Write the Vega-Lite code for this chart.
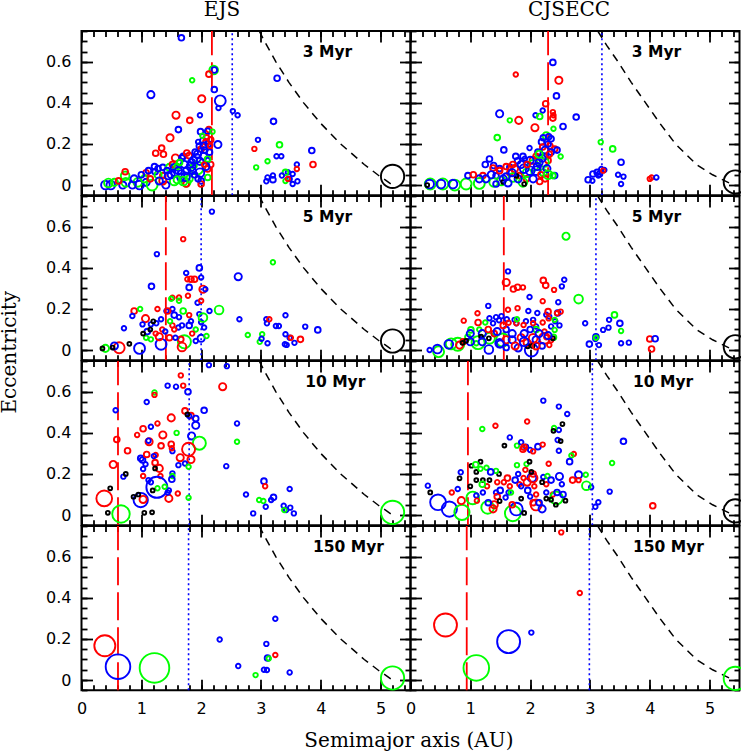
{
"$schema":"https://vega.github.io/schema/vega-lite/v6.json",
"padding":{"left":-2.5,"top":-1,"right":0,"bottom":0},
"autosize":{"type":"pad"},
"background":"white",
"config":{"view":{"stroke":"black","strokeWidth":2},
"axis":{"domain":false,"grid":false,"minExtent":0,"tickColor":"black","tickWidth":1.8,"labelColor":"black","labelFont":"DejaVu Sans","labelFontSize":16,"labelFlush":false,"labelOverlap":false,"labelPadding":10,"titleColor":"black","titleFont":"DejaVu Serif","titleFontSize":20,"titleFontWeight":"normal"}},
"datasets":{
"curve":[
{"s":"E","a":2.971,"e":0.75},{"s":"E","a":3.059,"e":0.7},{"s":"E","a":3.25,"e":0.6},{"s":"E","a":3.467,"e":0.5},{"s":"E","a":3.714,"e":0.4},{"s":"E","a":4.0,"e":0.3},{"s":"E","a":4.333,"e":0.2},{"s":"E","a":4.727,"e":0.1},{"s":"E","a":4.952,"e":0.05},{"s":"E","a":5.2,"e":0},
{"s":"C","a":3.13,"e":0.75},{"s":"C","a":3.28,"e":0.68},{"s":"C","a":3.47,"e":0.6},{"s":"C","a":3.69,"e":0.5},{"s":"C","a":3.93,"e":0.4},{"s":"C","a":4.17,"e":0.3},{"s":"C","a":4.43,"e":0.2},{"s":"C","a":4.78,"e":0.1},{"s":"C","a":5.05,"e":0.05},{"s":"C","a":5.4,"e":0}],
"vlines":[
{"p":"E3","kind":"inner","a":2.18},{"p":"E3","kind":"outer","a":2.52},
{"p":"E5","kind":"inner","a":1.41},{"p":"E5","kind":"outer","a":2.0},
{"p":"E10","kind":"inner","a":0.61},{"p":"E10","kind":"outer","a":1.8},
{"p":"E150","kind":"inner","a":0.61},{"p":"E150","kind":"outer","a":1.79},
{"p":"C3","kind":"inner","a":2.3},{"p":"C3","kind":"outer","a":3.2},
{"p":"C5","kind":"inner","a":1.56},{"p":"C5","kind":"outer","a":3.1},
{"p":"C10","kind":"inner","a":0.96},{"p":"C10","kind":"outer","a":3.04},
{"p":"C150","kind":"inner","a":0.94},{"p":"C150","kind":"outer","a":2.99}],
"labels":[
{"p":"E3","label":"3 Myr"},{"p":"C3","label":"3 Myr"},{"p":"E5","label":"5 Myr"},{"p":"C5","label":"5 Myr"},
{"p":"E10","label":"10 Myr"},{"p":"C10","label":"10 Myr"},{"p":"E150","label":"150 Myr"},{"p":"C150","label":"150 Myr"}],
"jup":[
{"p":"E3","a":5.2,"e":0.042,"g":"D"},{"p":"E5","a":5.2,"e":0.044,"g":"D"},{"p":"E10","a":5.2,"e":0.013,"g":"B"},{"p":"E150","a":5.2,"e":0.01,"g":"B"},
{"p":"C3","a":5.43,"e":0.015,"g":"D"},{"p":"C5","a":5.43,"e":0.016,"g":"D"},{"p":"C10","a":5.43,"e":0.02,"g":"D"},{"p":"C150","a":5.43,"e":0.008,"g":"B"}],
"pts":[
{"p":"E3","a":1.67,"e":0.717,"g":"C","m":0.01},{"p":"E3","a":1.16,"e":0.44,"g":"C","m":0.02},{"p":"E3","a":1.85,"e":0.51,"g":"B","m":0.005},{"p":"E3","a":2.21,"e":0.56,"g":"B","m":0.035},{"p":"E3","a":2.22,"e":0.56,"g":"C","m":0.01},{"p":"E3","a":2.13,"e":0.54,"g":"A","m":0.01},{"p":"E3","a":2.22,"e":0.465,"g":"C","m":0.01},{"p":"E3","a":2.32,"e":0.41,"g":"C","m":0.07},{"p":"E3","a":2.29,"e":0.375,"g":"C","m":0.005},{"p":"E3","a":2.01,"e":0.42,"g":"A","m":0.02},{"p":"E3","a":1.58,"e":0.34,"g":"A","m":0.02},{"p":"E3","a":1.81,"e":0.315,"g":"A","m":0.01},{"p":"E3","a":1.98,"e":0.34,"g":"C","m":0.005},{"p":"E3","a":1.62,"e":0.27,"g":"C","m":0.01},{"p":"E3","a":1.48,"e":0.23,"g":"A","m":0.02},{"p":"E3","a":2.13,"e":0.27,"g":"A","m":0.01},{"p":"E3","a":2.11,"e":0.262,"g":"C","m":0.01},{"p":"E3","a":1.34,"e":0.18,"g":"A","m":0.01},{"p":"E3","a":1.24,"e":0.155,"g":"A","m":0.01},{"p":"E3","a":1.37,"e":0.15,"g":"A","m":0.01},{"p":"E3","a":2.53,"e":0.36,"g":"C","m":0.005},{"p":"E3","a":2.61,"e":0.34,"g":"C","m":0.005},{"p":"E3","a":3.27,"e":0.52,"g":"C","m":0.01},{"p":"E3","a":3.21,"e":0.31,"g":"C","m":0.01},{"p":"E3","a":2.95,"e":0.22,"g":"C","m":0.005},{"p":"E3","a":2.89,"e":0.176,"g":"A","m":0.005},{"p":"E3","a":3.31,"e":0.196,"g":"B","m":0.01},{"p":"E3","a":3.11,"e":0.116,"g":"B","m":0.005},{"p":"E3","a":2.92,"e":0.086,"g":"B","m":0.005},{"p":"E3","a":3.26,"e":0.14,"g":"C","m":0.005},{"p":"E3","a":3.34,"e":0.14,"g":"C","m":0.005},{"p":"E3","a":3.85,"e":0.168,"g":"C","m":0.01},{"p":"E3","a":3.87,"e":0.1,"g":"A","m":0.01},{"p":"E3","a":3.6,"e":0.1,"g":"C","m":0.005},{"p":"E3","a":3.6,"e":0.078,"g":"A","m":0.005},{"p":"E3","a":3.45,"e":0.062,"g":"C","m":0.005},{"p":"E3","a":3.53,"e":0.054,"g":"C","m":0.005},{"p":"E3","a":3.41,"e":0.062,"g":"B","m":0.01},{"p":"E3","a":3.2,"e":0.046,"g":"C","m":0.005},{"p":"E3","a":3.11,"e":0.037,"g":"C","m":0.005},{"p":"E3","a":3.35,"e":0.046,"g":"C","m":0.005},{"p":"E3","a":3.48,"e":0.029,"g":"C","m":0.005},{"p":"E3","a":3.41,"e":0.02,"g":"B","m":0.005},{"p":"E3","a":3.45,"e":0.03,"g":"A","m":0.005},{"p":"E3","a":3.2,"e":0.026,"g":"C","m":0.01},{"p":"E3","a":3.09,"e":0.018,"g":"C","m":0.005},{"p":"E3","a":3.53,"e":0.005,"g":"C","m":0.005},{"p":"E3","a":3.61,"e":0.018,"g":"C","m":0.005},{"p":"E3","a":2.28,"e":0.197,"g":"C","m":0.02},{"p":"E3","a":2.19,"e":0.26,"g":"B","m":0.005},
{"p":"E3","a":0.4,"e":0.0,"g":"C","m":0.035},{"p":"E3","a":0.49,"e":0.0,"g":"C","m":0.035},{"p":"E3","a":0.45,"e":0.01,"g":"B","m":0.035},{"p":"E3","a":0.55,"e":0.013,"g":"B","m":0.02},{"p":"E3","a":0.69,"e":0.0,"g":"C","m":0.02},{"p":"E3","a":0.74,"e":0.013,"g":"B","m":0.035},{"p":"E3","a":0.85,"e":0.0,"g":"C","m":0.02},{"p":"E3","a":0.94,"e":0.013,"g":"B","m":0.035},{"p":"E3","a":0.97,"e":0.0,"g":"C","m":0.035},{"p":"E3","a":1.08,"e":0.013,"g":"C","m":0.02},{"p":"E3","a":1.18,"e":0.0,"g":"B","m":0.07},{"p":"E3","a":0.73,"e":0.045,"g":"B","m":0.035},{"p":"E3","a":0.73,"e":0.065,"g":"A","m":0.01},{"p":"E3","a":0.62,"e":0.02,"g":"A","m":0.01},{"p":"E3","a":1.22,"e":0.09,"g":"C","m":0.01},{"p":"E3","a":1.36,"e":0.086,"g":"C","m":0.01},{"p":"E3","a":1.23,"e":0.065,"g":"C","m":0.01},{"p":"E3","a":1.08,"e":0.06,"g":"A","m":0.01},{"p":"E3","a":1.36,"e":0.046,"g":"A","m":0.01},{"p":"E3","a":1.28,"e":0.05,"g":"B","m":0.02},{"p":"E3","a":1.47,"e":0.086,"g":"B","m":0.02},{"p":"E3","a":1.52,"e":0.1,"g":"A","m":0.01},{"p":"E3","a":1.55,"e":0.085,"g":"C","m":0.02},{"p":"E3","a":1.57,"e":0.132,"g":"A","m":0.02},{"p":"E3","a":1.68,"e":0.132,"g":"C","m":0.01},{"p":"E3","a":1.7,"e":0.14,"g":"C","m":0.01},{"p":"E3","a":1.76,"e":0.156,"g":"A","m":0.01},{"p":"E3","a":1.8,"e":0.143,"g":"A","m":0.01},{"p":"E3","a":1.84,"e":0.11,"g":"C","m":0.02},{"p":"E3","a":1.88,"e":0.095,"g":"B","m":0.01},{"p":"E3","a":1.97,"e":0.19,"g":"C","m":0.01},{"p":"E3","a":2.03,"e":0.217,"g":"C","m":0.01},{"p":"E3","a":2.08,"e":0.21,"g":"A","m":0.01},{"p":"E3","a":2.0,"e":0.175,"g":"A","m":0.01},{"p":"E3","a":2.06,"e":0.17,"g":"C","m":0.01},{"p":"E3","a":1.94,"e":0.15,"g":"C","m":0.02},{"p":"E3","a":2.04,"e":0.14,"g":"C","m":0.02},{"p":"E3","a":1.98,"e":0.115,"g":"C","m":0.02},{"p":"E3","a":2.1,"e":0.12,"g":"C","m":0.01},{"p":"E3","a":2.11,"e":0.078,"g":"A","m":0.01},{"p":"E3","a":2.16,"e":0.1,"g":"A","m":0.01},{"p":"E3","a":2.11,"e":0.127,"g":"B","m":0.01},{"p":"E3","a":2.11,"e":0.037,"g":"B","m":0.01},{"p":"E3","a":1.93,"e":0.083,"g":"B","m":0.12},{"p":"E3","a":2.0,"e":0.02,"g":"C","m":0.01},{"p":"E3","a":2.0,"e":0.005,"g":"A","m":0.01},{"p":"E3","a":1.55,"e":0.02,"g":"B","m":0.035},{"p":"E3","a":1.75,"e":0.013,"g":"B","m":0.035},{"p":"E3","a":1.75,"e":0.005,"g":"A","m":0.01},{"p":"E3","a":1.41,"e":0.0,"g":"C","m":0.02},{"p":"E3","a":1.36,"e":0.02,"g":"A","m":0.02},{"p":"E3","a":1.66,"e":0.037,"g":"C","m":0.02},{"p":"E3","a":1.8,"e":0.03,"g":"B","m":0.02},{"p":"E3","a":1.45,"e":0.045,"g":"C","m":0.02},{"p":"E3","a":1.56,"e":0.06,"g":"C","m":0.02},{"p":"E3","a":1.67,"e":0.055,"g":"C","m":0.02},{"p":"E3","a":1.76,"e":0.07,"g":"C","m":0.02},{"p":"E3","a":1.85,"e":0.07,"g":"C","m":0.02},{"p":"E3","a":1.89,"e":0.05,"g":"C","m":0.01},{"p":"E3","a":1.95,"e":0.03,"g":"C","m":0.01},{"p":"E3","a":1.6,"e":0.09,"g":"B","m":0.01},{"p":"E3","a":1.3,"e":0.02,"g":"C","m":0.02},{"p":"E3","a":1.05,"e":0.03,"g":"B","m":0.02},{"p":"E3","a":1.15,"e":0.03,"g":"A","m":0.01},{"p":"E3","a":0.88,"e":0.03,"g":"C","m":0.02},{"p":"E3","a":2.09,"e":0.23,"g":"A","m":0.01},{"p":"E3","a":2.12,"e":0.2,"g":"C","m":0.01},{"p":"E3","a":1.99,"e":0.26,"g":"C","m":0.01},
{"p":"E3","a":1.9,"e":0.16,"g":"C","m":0.01},{"p":"E3","a":1.95,"e":0.21,"g":"C","m":0.005},{"p":"E3","a":2.05,"e":0.19,"g":"C","m":0.02},{"p":"E3","a":2.14,"e":0.16,"g":"C","m":0.01},{"p":"E3","a":2.16,"e":0.22,"g":"A","m":0.01},{"p":"E3","a":2.02,"e":0.24,"g":"B","m":0.005},{"p":"E3","a":1.87,"e":0.12,"g":"C","m":0.02},{"p":"E3","a":1.72,"e":0.1,"g":"C","m":0.02},{"p":"E3","a":1.62,"e":0.07,"g":"C","m":0.02},{"p":"E3","a":1.5,"e":0.05,"g":"C","m":0.02},{"p":"E3","a":1.43,"e":0.07,"g":"C","m":0.01},{"p":"E3","a":1.74,"e":0.04,"g":"C","m":0.035},{"p":"E3","a":1.92,"e":0.13,"g":"C","m":0.035},{"p":"E3","a":2.08,"e":0.09,"g":"C","m":0.02},{"p":"E3","a":1.98,"e":0.06,"g":"C","m":0.035},{"p":"E3","a":1.83,"e":0.09,"g":"C","m":0.035},{"p":"E3","a":1.64,"e":0.11,"g":"B","m":0.01},{"p":"E3","a":1.28,"e":0.08,"g":"C","m":0.01},{"p":"E3","a":1.12,"e":0.07,"g":"C","m":0.01},{"p":"E3","a":1.0,"e":0.05,"g":"C","m":0.01},{"p":"E3","a":2.15,"e":0.19,"g":"A","m":0.005},{"p":"E3","a":2.05,"e":0.1,"g":"A","m":0.005},{"p":"E3","a":1.7,"e":0.02,"g":"B","m":0.035},{"p":"E3","a":1.6,"e":0.025,"g":"B","m":0.02},
{"p":"C3","a":2.38,"e":0.597,"g":"C","m":0.01},{"p":"C3","a":1.76,"e":0.538,"g":"A","m":0.005},{"p":"C3","a":2.48,"e":0.51,"g":"A","m":0.02},{"p":"C3","a":2.44,"e":0.434,"g":"C","m":0.01},{"p":"C3","a":1.49,"e":0.347,"g":"C","m":0.02},{"p":"C3","a":1.66,"e":0.315,"g":"B","m":0.005},{"p":"C3","a":1.81,"e":0.315,"g":"A","m":0.02},{"p":"C3","a":2.09,"e":0.34,"g":"C","m":0.005},{"p":"C3","a":2.21,"e":0.363,"g":"C","m":0.005},{"p":"C3","a":2.26,"e":0.396,"g":"A","m":0.01},{"p":"C3","a":2.38,"e":0.355,"g":"A","m":0.005},{"p":"C3","a":2.39,"e":0.34,"g":"A","m":0.005},{"p":"C3","a":2.38,"e":0.326,"g":"A","m":0.01},{"p":"C3","a":2.16,"e":0.334,"g":"B","m":0.01},{"p":"C3","a":2.08,"e":0.279,"g":"A","m":0.02},{"p":"C3","a":2.77,"e":0.331,"g":"C","m":0.01},{"p":"C3","a":2.55,"e":0.285,"g":"C","m":0.01},{"p":"C3","a":2.39,"e":0.274,"g":"B","m":0.005},{"p":"C3","a":1.45,"e":0.231,"g":"B","m":0.01},{"p":"C3","a":1.56,"e":0.171,"g":"C","m":0.01},{"p":"C3","a":2.27,"e":0.24,"g":"B","m":0.02},{"p":"C3","a":2.31,"e":0.235,"g":"C","m":0.01},{"p":"C3","a":2.35,"e":0.225,"g":"C","m":0.01},{"p":"C3","a":2.19,"e":0.21,"g":"C","m":0.01},{"p":"C3","a":2.21,"e":0.185,"g":"A","m":0.01},{"p":"C3","a":2.33,"e":0.19,"g":"A","m":0.01},{"p":"C3","a":2.41,"e":0.175,"g":"A","m":0.01},{"p":"C3","a":2.35,"e":0.16,"g":"C","m":0.01},{"p":"C3","a":2.45,"e":0.17,"g":"C","m":0.01},{"p":"C3","a":2.51,"e":0.139,"g":"B","m":0.005},{"p":"C3","a":1.99,"e":0.18,"g":"C","m":0.005},{"p":"C3","a":2.13,"e":0.16,"g":"C","m":0.01},{"p":"C3","a":2.1,"e":0.14,"g":"A","m":0.01},{"p":"C3","a":2.25,"e":0.14,"g":"C","m":0.01},{"p":"C3","a":2.3,"e":0.12,"g":"A","m":0.01},{"p":"C3","a":1.32,"e":0.127,"g":"C","m":0.01},{"p":"C3","a":1.25,"e":0.1,"g":"C","m":0.01},{"p":"C3","a":1.39,"e":0.095,"g":"C","m":0.01},{"p":"C3","a":1.49,"e":0.08,"g":"C","m":0.01},{"p":"C3","a":1.43,"e":0.045,"g":"C","m":0.01},{"p":"C3","a":1.66,"e":0.086,"g":"C","m":0.01},{"p":"C3","a":1.76,"e":0.14,"g":"C","m":0.01},{"p":"C3","a":1.88,"e":0.14,"g":"C","m":0.01},{"p":"C3","a":1.91,"e":0.128,"g":"C","m":0.005},{"p":"C3","a":1.79,"e":0.118,"g":"C","m":0.01},{"p":"C3","a":1.71,"e":0.1,"g":"A","m":0.01},{"p":"C3","a":1.21,"e":0.046,"g":"A","m":0.01},{"p":"C3","a":1.38,"e":0.083,"g":"A","m":0.01},{"p":"C3","a":1.49,"e":0.07,"g":"A","m":0.01},{"p":"C3","a":1.6,"e":0.09,"g":"A","m":0.01},{"p":"C3","a":1.74,"e":0.08,"g":"A","m":0.02},{"p":"C3","a":1.66,"e":0.06,"g":"A","m":0.01},{"p":"C3","a":1.82,"e":0.046,"g":"A","m":0.01},{"p":"C3","a":1.94,"e":0.03,"g":"A","m":0.01},{"p":"C3","a":2.16,"e":0.017,"g":"A","m":0.01},{"p":"C3","a":2.05,"e":0.12,"g":"A","m":0.02},
{"p":"C3","a":0.33,"e":0.005,"g":"B","m":0.07},{"p":"C3","a":0.54,"e":0.005,"g":"B","m":0.07},{"p":"C3","a":0.74,"e":0.0,"g":"B","m":0.07},{"p":"C3","a":0.93,"e":0.005,"g":"B","m":0.07},{"p":"C3","a":1.15,"e":0.008,"g":"B","m":0.07},{"p":"C3","a":1.39,"e":0.013,"g":"B","m":0.035},{"p":"C3","a":1.52,"e":0.02,"g":"B","m":0.035},{"p":"C3","a":1.71,"e":0.037,"g":"B","m":0.035},{"p":"C3","a":1.88,"e":0.013,"g":"B","m":0.035},{"p":"C3","a":2.05,"e":0.095,"g":"B","m":0.07},{"p":"C3","a":2.24,"e":0.11,"g":"B","m":0.035},{"p":"C3","a":1.95,"e":0.06,"g":"B","m":0.035},{"p":"C3","a":2.22,"e":0.06,"g":"B","m":0.02},{"p":"C3","a":0.32,"e":0.005,"g":"C","m":0.035},{"p":"C3","a":0.51,"e":0.005,"g":"C","m":0.035},{"p":"C3","a":0.71,"e":0.005,"g":"C","m":0.035},{"p":"C3","a":0.96,"e":0.046,"g":"C","m":0.01},{"p":"C3","a":1.26,"e":0.03,"g":"C","m":0.02},{"p":"C3","a":1.43,"e":0.005,"g":"C","m":0.01},{"p":"C3","a":1.55,"e":0.03,"g":"C","m":0.02},{"p":"C3","a":1.8,"e":0.03,"g":"C","m":0.02},{"p":"C3","a":2.0,"e":0.07,"g":"C","m":0.035},{"p":"C3","a":2.12,"e":0.09,"g":"C","m":0.02},{"p":"C3","a":2.2,"e":0.13,"g":"C","m":0.02},{"p":"C3","a":2.41,"e":0.046,"g":"C","m":0.01},{"p":"C3","a":2.38,"e":0.046,"g":"B","m":0.01},{"p":"C3","a":0.28,"e":0.0,"g":"D","m":0.003},{"p":"C3","a":1.55,"e":0.015,"g":"D","m":0.003},{"p":"C3","a":1.77,"e":0.045,"g":"D","m":0.003},{"p":"C3","a":1.9,"e":0.005,"g":"D","m":0.003},{"p":"C3","a":2.97,"e":0.026,"g":"C","m":0.01},{"p":"C3","a":3.04,"e":0.021,"g":"C","m":0.005},{"p":"C3","a":3.05,"e":0.054,"g":"C","m":0.01},{"p":"C3","a":3.12,"e":0.062,"g":"C","m":0.01},{"p":"C3","a":3.16,"e":0.054,"g":"C","m":0.01},{"p":"C3","a":3.14,"e":0.046,"g":"C","m":0.005},{"p":"C3","a":3.24,"e":0.073,"g":"C","m":0.005},{"p":"C3","a":3.19,"e":0.078,"g":"C","m":0.005},{"p":"C3","a":3.22,"e":0.07,"g":"A","m":0.005},{"p":"C3","a":3.18,"e":0.209,"g":"B","m":0.005},{"p":"C3","a":3.38,"e":0.176,"g":"B","m":0.01},{"p":"C3","a":3.52,"e":0.111,"g":"C","m":0.01},{"p":"C3","a":3.47,"e":0.05,"g":"C","m":0.005},{"p":"C3","a":3.56,"e":0.041,"g":"C","m":0.005},{"p":"C3","a":3.52,"e":0.005,"g":"C","m":0.005},{"p":"C3","a":4.0,"e":0.03,"g":"A","m":0.005},{"p":"C3","a":4.03,"e":0.037,"g":"A","m":0.005},{"p":"C3","a":4.11,"e":0.037,"g":"C","m":0.005},
{"p":"C3","a":2.0,"e":0.12,"g":"C","m":0.02},{"p":"C3","a":2.15,"e":0.11,"g":"C","m":0.02},{"p":"C3","a":2.25,"e":0.17,"g":"C","m":0.02},{"p":"C3","a":2.3,"e":0.2,"g":"C","m":0.01},{"p":"C3","a":2.22,"e":0.23,"g":"C","m":0.01},{"p":"C3","a":2.1,"e":0.07,"g":"C","m":0.035},{"p":"C3","a":1.9,"e":0.08,"g":"C","m":0.035},{"p":"C3","a":1.85,"e":0.1,"g":"C","m":0.02},{"p":"C3","a":1.7,"e":0.06,"g":"C","m":0.02},{"p":"C3","a":1.6,"e":0.04,"g":"C","m":0.02},{"p":"C3","a":2.05,"e":0.03,"g":"C","m":0.02},{"p":"C3","a":2.28,"e":0.08,"g":"C","m":0.02},{"p":"C3","a":2.32,"e":0.15,"g":"A","m":0.01},{"p":"C3","a":2.18,"e":0.05,"g":"A","m":0.01},{"p":"C3","a":2.25,"e":0.03,"g":"A","m":0.01},{"p":"C3","a":1.95,"e":0.1,"g":"A","m":0.01},{"p":"C3","a":1.35,"e":0.05,"g":"C","m":0.02},{"p":"C3","a":1.15,"e":0.03,"g":"C","m":0.02},{"p":"C3","a":1.05,"e":0.05,"g":"A","m":0.01},{"p":"C3","a":2.15,"e":0.15,"g":"B","m":0.02},{"p":"C3","a":2.3,"e":0.05,"g":"B","m":0.035},{"p":"C3","a":1.63,"e":0.01,"g":"C","m":0.02},
{"p":"E5","a":2.18,"e":0.674,"g":"C","m":0.005},{"p":"E5","a":1.7,"e":0.54,"g":"A","m":0.005},{"p":"E5","a":1.26,"e":0.467,"g":"C","m":0.005},{"p":"E5","a":3.2,"e":0.427,"g":"B","m":0.005},{"p":"E5","a":2.62,"e":0.357,"g":"C","m":0.02},{"p":"E5","a":1.97,"e":0.4,"g":"C","m":0.01},{"p":"E5","a":1.75,"e":0.375,"g":"C","m":0.005},{"p":"E5","a":1.83,"e":0.345,"g":"A","m":0.01},{"p":"E5","a":1.89,"e":0.345,"g":"A","m":0.01},{"p":"E5","a":2.0,"e":0.353,"g":"C","m":0.005},{"p":"E5","a":1.77,"e":0.345,"g":"A","m":0.005},{"p":"E5","a":2.03,"e":0.296,"g":"A","m":0.02},{"p":"E5","a":2.07,"e":0.296,"g":"C","m":0.005},{"p":"E5","a":1.17,"e":0.31,"g":"C","m":0.01},{"p":"E5","a":1.8,"e":0.305,"g":"C","m":0.01},{"p":"E5","a":1.78,"e":0.264,"g":"A","m":0.005},{"p":"E5","a":1.63,"e":0.256,"g":"A","m":0.005},{"p":"E5","a":1.94,"e":0.23,"g":"C","m":0.005},{"p":"E5","a":2.0,"e":0.24,"g":"A","m":0.005},{"p":"E5","a":1.52,"e":0.255,"g":"A","m":0.005},{"p":"E5","a":2.3,"e":0.195,"g":"B","m":0.035},{"p":"E5","a":1.5,"e":0.25,"g":"B","m":0.005},{"p":"E5","a":1.63,"e":0.24,"g":"B","m":0.005},{"p":"E5","a":2.14,"e":0.19,"g":"C","m":0.005},{"p":"E5","a":2.64,"e":0.15,"g":"C","m":0.005},{"p":"E5","a":3.09,"e":0.15,"g":"C","m":0.005},{"p":"E5","a":3.1,"e":0.13,"g":"C","m":0.005},{"p":"E5","a":3.25,"e":0.117,"g":"C","m":0.005},{"p":"E5","a":3.3,"e":0.117,"g":"C","m":0.005},{"p":"E5","a":3.41,"e":0.169,"g":"C","m":0.005},{"p":"E5","a":3.74,"e":0.114,"g":"C","m":0.005},{"p":"E5","a":3.95,"e":0.098,"g":"C","m":0.01},{"p":"E5","a":3.14,"e":0.15,"g":"A","m":0.005},{"p":"E5","a":2.78,"e":0.073,"g":"B","m":0.005},{"p":"E5","a":3.02,"e":0.077,"g":"B","m":0.005},{"p":"E5","a":2.98,"e":0.04,"g":"B","m":0.005},{"p":"E5","a":3.01,"e":0.055,"g":"C","m":0.005},{"p":"E5","a":3.11,"e":0.033,"g":"C","m":0.005},{"p":"E5","a":3.41,"e":0.077,"g":"C","m":0.005},{"p":"E5","a":3.48,"e":0.06,"g":"C","m":0.005},{"p":"E5","a":3.4,"e":0.028,"g":"C","m":0.005},{"p":"E5","a":3.43,"e":0.025,"g":"C","m":0.005},{"p":"E5","a":3.56,"e":0.035,"g":"C","m":0.005},{"p":"E5","a":3.5,"e":0.06,"g":"A","m":0.005},{"p":"E5","a":3.66,"e":0.052,"g":"A","m":0.01},{"p":"E5","a":1.97,"e":0.175,"g":"C","m":0.005},{"p":"E5","a":2.0,"e":0.135,"g":"C","m":0.005},{"p":"E5","a":2.03,"e":0.158,"g":"B","m":0.035},{"p":"E5","a":2.05,"e":0.11,"g":"C","m":0.005},{"p":"E5","a":2.0,"e":0.057,"g":"C","m":0.02},{"p":"E5","a":1.91,"e":0.044,"g":"C","m":0.005},{"p":"E5","a":2.09,"e":0.068,"g":"B","m":0.005},{"p":"E5","a":1.91,"e":0.1,"g":"B","m":0.005},{"p":"E5","a":1.72,"e":0.04,"g":"B","m":0.12},{"p":"E5","a":1.68,"e":0.015,"g":"A","m":0.035},{"p":"E5","a":1.66,"e":0.052,"g":"A","m":0.01},{"p":"E5","a":1.33,"e":0.028,"g":"C","m":0.07},{"p":"E5","a":1.3,"e":0.065,"g":"A","m":0.02},{"p":"E5","a":0.97,"e":0.008,"g":"C","m":0.07},{"p":"E5","a":0.63,"e":0.011,"g":"A","m":0.07},{"p":"E5","a":0.55,"e":0.02,"g":"C","m":0.02},{"p":"E5","a":0.4,"e":0.008,"g":"B","m":0.02},{"p":"E5","a":0.35,"e":0.008,"g":"D","m":0.003},{"p":"E5","a":0.52,"e":0.012,"g":"D","m":0.003},{"p":"E5","a":0.71,"e":0.106,"g":"C","m":0.005},{"p":"E5","a":0.88,"e":0.19,"g":"A","m":0.01},{"p":"E5","a":0.98,"e":0.2,"g":"B","m":0.005},{"p":"E5","a":0.85,"e":0.166,"g":"C","m":0.005},{"p":"E5","a":1.07,"e":0.153,"g":"A","m":0.02},{"p":"E5","a":1.02,"e":0.125,"g":"C","m":0.005},{"p":"E5","a":1.08,"e":0.06,"g":"B","m":0.005},{"p":"E5","a":1.16,"e":0.052,"g":"B","m":0.005},{"p":"E5","a":1.1,"e":0.09,"g":"C","m":0.01},{"p":"E5","a":1.16,"e":0.125,"g":"C","m":0.005},{"p":"E5","a":1.25,"e":0.13,"g":"C","m":0.005},{"p":"E5","a":1.33,"e":0.15,"g":"C","m":0.005},{"p":"E5","a":1.42,"e":0.19,"g":"C","m":0.005},{"p":"E5","a":1.52,"e":0.2,"g":"C","m":0.005},{"p":"E5","a":1.27,"e":0.2,"g":"A","m":0.005},{"p":"E5","a":1.44,"e":0.19,"g":"A","m":0.01},{"p":"E5","a":1.55,"e":0.17,"g":"C","m":0.01},{"p":"E5","a":1.63,"e":0.16,"g":"C","m":0.005},{"p":"E5","a":1.68,"e":0.12,"g":"C","m":0.005},{"p":"E5","a":1.62,"e":0.11,"g":"C","m":0.005},{"p":"E5","a":1.8,"e":0.12,"g":"C","m":0.01},{"p":"E5","a":1.83,"e":0.14,"g":"C","m":0.005},{"p":"E5","a":1.52,"e":0.12,"g":"A","m":0.005},{"p":"E5","a":1.55,"e":0.1,"g":"A","m":0.005},{"p":"E5","a":1.35,"e":0.1,"g":"A","m":0.005},{"p":"E5","a":1.24,"e":0.08,"g":"A","m":0.005},{"p":"E5","a":1.47,"e":0.06,"g":"A","m":0.01},{"p":"E5","a":1.85,"e":0.08,"g":"A","m":0.005},{"p":"E5","a":1.8,"e":0.17,"g":"A","m":0.005},{"p":"E5","a":1.7,"e":0.19,"g":"B","m":0.01},{"p":"E5","a":1.48,"e":0.14,"g":"B","m":0.005},{"p":"E5","a":1.4,"e":0.09,"g":"C","m":0.005},{"p":"E5","a":1.57,"e":0.06,"g":"C","m":0.005},{"p":"E5","a":1.15,"e":0.1,"g":"D","m":0.003},{"p":"E5","a":1.03,"e":0.08,"g":"D","m":0.003},{"p":"E5","a":1.2,"e":0.14,"g":"D","m":0.003},{"p":"E5","a":0.8,"e":0.03,"g":"D","m":0.003},
{"p":"C5","a":2.6,"e":0.554,"g":"B","m":0.02},{"p":"C5","a":1.63,"e":0.383,"g":"C","m":0.005},{"p":"C5","a":1.6,"e":0.329,"g":"A","m":0.02},{"p":"C5","a":1.72,"e":0.297,"g":"A","m":0.01},{"p":"C5","a":1.79,"e":0.306,"g":"A","m":0.01},{"p":"C5","a":1.88,"e":0.305,"g":"A","m":0.005},{"p":"C5","a":2.22,"e":0.339,"g":"A","m":0.01},{"p":"C5","a":2.26,"e":0.315,"g":"A","m":0.01},{"p":"C5","a":2.4,"e":0.293,"g":"A","m":0.005},{"p":"C5","a":2.53,"e":0.31,"g":"C","m":0.005},{"p":"C5","a":2.57,"e":0.342,"g":"C","m":0.005},{"p":"C5","a":2.81,"e":0.248,"g":"B","m":0.035},{"p":"C5","a":1.99,"e":0.258,"g":"C","m":0.005},{"p":"C5","a":2.21,"e":0.238,"g":"A","m":0.005},{"p":"C5","a":2.47,"e":0.233,"g":"C","m":0.005},{"p":"C5","a":1.3,"e":0.215,"g":"C","m":0.005},{"p":"C5","a":1.63,"e":0.196,"g":"A","m":0.005},{"p":"C5","a":1.79,"e":0.204,"g":"A","m":0.005},{"p":"C5","a":1.97,"e":0.19,"g":"C","m":0.005},{"p":"C5","a":2.12,"e":0.18,"g":"C","m":0.005},{"p":"C5","a":1.12,"e":0.179,"g":"A","m":0.005},{"p":"C5","a":0.89,"e":0.143,"g":"A","m":0.005},{"p":"C5","a":1.13,"e":0.134,"g":"A","m":0.01},{"p":"C5","a":1.25,"e":0.134,"g":"B","m":0.005},{"p":"C5","a":1.43,"e":0.16,"g":"C","m":0.005},{"p":"C5","a":1.48,"e":0.145,"g":"C","m":0.005},{"p":"C5","a":1.52,"e":0.165,"g":"C","m":0.005},{"p":"C5","a":1.32,"e":0.155,"g":"C","m":0.005},{"p":"C5","a":1.38,"e":0.13,"g":"C","m":0.005},{"p":"C5","a":1.61,"e":0.15,"g":"C","m":0.005},{"p":"C5","a":1.74,"e":0.147,"g":"C","m":0.005},{"p":"C5","a":1.77,"e":0.13,"g":"C","m":0.005},{"p":"C5","a":1.93,"e":0.14,"g":"C","m":0.005},{"p":"C5","a":2.05,"e":0.147,"g":"C","m":0.005},{"p":"C5","a":2.1,"e":0.115,"g":"C","m":0.005},{"p":"C5","a":2.27,"e":0.172,"g":"C","m":0.005},{"p":"C5","a":2.32,"e":0.163,"g":"C","m":0.005},{"p":"C5","a":2.46,"e":0.18,"g":"C","m":0.01},{"p":"C5","a":2.49,"e":0.12,"g":"C","m":0.005},{"p":"C5","a":2.35,"e":0.115,"g":"C","m":0.005},{"p":"C5","a":2.42,"e":0.14,"g":"C","m":0.005},{"p":"C5","a":1.64,"e":0.133,"g":"A","m":0.005},{"p":"C5","a":1.77,"e":0.13,"g":"A","m":0.005},{"p":"C5","a":1.89,"e":0.122,"g":"A","m":0.005},{"p":"C5","a":2.05,"e":0.13,"g":"A","m":0.005},{"p":"C5","a":2.21,"e":0.134,"g":"A","m":0.005},{"p":"C5","a":2.3,"e":0.187,"g":"A","m":0.01},{"p":"C5","a":2.31,"e":0.154,"g":"A","m":0.005},{"p":"C5","a":2.45,"e":0.179,"g":"A","m":0.005},{"p":"C5","a":2.51,"e":0.187,"g":"A","m":0.005},{"p":"C5","a":2.24,"e":0.09,"g":"A","m":0.005},{"p":"C5","a":2.27,"e":0.062,"g":"A","m":0.005},{"p":"C5","a":2.32,"e":0.024,"g":"A","m":0.005},{"p":"C5","a":2.35,"e":0.048,"g":"A","m":0.005},{"p":"C5","a":2.1,"e":0.1,"g":"B","m":0.01},{"p":"C5","a":2.41,"e":0.147,"g":"B","m":0.005},{"p":"C5","a":2.41,"e":0.098,"g":"B","m":0.005},{"p":"C5","a":2.39,"e":0.062,"g":"B","m":0.01},{"p":"C5","a":1.78,"e":0.15,"g":"B","m":0.005},{"p":"C5","a":1.15,"e":0.1,"g":"B","m":0.005},{"p":"C5","a":1.01,"e":0.098,"g":"B","m":0.01},{"p":"C5","a":0.96,"e":0.062,"g":"B","m":0.01},{"p":"C5","a":1.1,"e":0.033,"g":"B","m":0.005},{"p":"C5","a":1.13,"e":0.036,"g":"B","m":0.12},{"p":"C5","a":1.32,"e":0.057,"g":"B","m":0.07},{"p":"C5","a":1.54,"e":0.049,"g":"B","m":0.12},{"p":"C5","a":1.49,"e":0.033,"g":"C","m":0.035},{"p":"C5","a":2.02,"e":0.0,"g":"C","m":0.12},{"p":"C5","a":1.31,"e":0.003,"g":"C","m":0.035},{"p":"C5","a":0.79,"e":0.028,"g":"B","m":0.12},{"p":"C5","a":0.68,"e":0.03,"g":"B","m":0.07},{"p":"C5","a":0.47,"e":-0.008,"g":"B","m":0.07},{"p":"C5","a":0.45,"e":0.005,"g":"C","m":0.035},{"p":"C5","a":0.64,"e":0.028,"g":"C","m":0.035},{"p":"C5","a":0.32,"e":0.0,"g":"C","m":0.005},{"p":"C5","a":0.82,"e":0.024,"g":"A","m":0.02},{"p":"C5","a":0.88,"e":0.04,"g":"A","m":0.01},{"p":"C5","a":2.24,"e":0.057,"g":"A","m":0.07},{"p":"C5","a":2.05,"e":0.057,"g":"A","m":0.035},{"p":"C5","a":1.6,"e":0.05,"g":"A","m":0.02},{"p":"C5","a":1.85,"e":0.06,"g":"A","m":0.02},{"p":"C5","a":1.95,"e":0.035,"g":"A","m":0.02},{"p":"C5","a":1.4,"e":0.08,"g":"A","m":0.01},{"p":"C5","a":1.0,"e":0.08,"g":"C","m":0.02},{"p":"C5","a":1.2,"e":0.08,"g":"C","m":0.02},{"p":"C5","a":1.45,"e":0.09,"g":"C","m":0.02},{"p":"C5","a":1.7,"e":0.08,"g":"C","m":0.02},{"p":"C5","a":1.9,"e":0.08,"g":"C","m":0.02},{"p":"C5","a":2.15,"e":0.08,"g":"C","m":0.02},{"p":"C5","a":1.8,"e":0.01,"g":"C","m":0.02},{"p":"C5","a":1.6,"e":0.012,"g":"C","m":0.01},{"p":"C5","a":2.2,"e":0.02,"g":"C","m":0.01},{"p":"C5","a":1.0,"e":0.04,"g":"C","m":0.02},{"p":"C5","a":0.87,"e":0.035,"g":"D","m":0.003},{"p":"C5","a":0.93,"e":0.045,"g":"D","m":0.003},{"p":"C5","a":1.18,"e":0.065,"g":"D","m":0.003},{"p":"C5","a":1.31,"e":0.057,"g":"D","m":0.003},{"p":"C5","a":1.96,"e":0.018,"g":"D","m":0.003},{"p":"C5","a":2.04,"e":0.02,"g":"D","m":0.003},{"p":"C5","a":2.38,"e":0.057,"g":"D","m":0.003},{"p":"C5","a":3.41,"e":0.171,"g":"B","m":0.01},{"p":"C5","a":3.52,"e":0.093,"g":"B","m":0.005},{"p":"C5","a":2.92,"e":0.13,"g":"C","m":0.005},{"p":"C5","a":3.22,"e":0.098,"g":"C","m":0.005},{"p":"C5","a":3.31,"e":0.109,"g":"C","m":0.005},{"p":"C5","a":3.32,"e":0.147,"g":"C","m":0.005},{"p":"C5","a":3.5,"e":0.13,"g":"C","m":0.01},{"p":"C5","a":3.1,"e":0.065,"g":"C","m":0.01},{"p":"C5","a":3.09,"e":0.054,"g":"C","m":0.005},{"p":"C5","a":3.1,"e":0.06,"g":"B","m":0.005},{"p":"C5","a":2.99,"e":0.029,"g":"C","m":0.01},{"p":"C5","a":3.15,"e":0.024,"g":"C","m":0.005},{"p":"C5","a":3.52,"e":0.033,"g":"C","m":0.005},{"p":"C5","a":3.65,"e":0.036,"g":"C","m":0.005},{"p":"C5","a":4.0,"e":0.054,"g":"A","m":0.01},{"p":"C5","a":4.09,"e":0.055,"g":"C","m":0.01},{"p":"C5","a":4.03,"e":0.005,"g":"A","m":0.01},
{"p":"C5","a":1.5,"e":0.03,"g":"C","m":0.02},{"p":"C5","a":1.7,"e":0.05,"g":"C","m":0.02},{"p":"C5","a":1.9,"e":0.04,"g":"C","m":0.035},{"p":"C5","a":2.1,"e":0.05,"g":"C","m":0.02},{"p":"C5","a":2.3,"e":0.07,"g":"C","m":0.02},{"p":"C5","a":1.2,"e":0.04,"g":"C","m":0.02},{"p":"C5","a":2.0,"e":0.1,"g":"C","m":0.01},{"p":"C5","a":1.6,"e":0.1,"g":"C","m":0.01},{"p":"C5","a":1.3,"e":0.1,"g":"A","m":0.01},{"p":"C5","a":1.75,"e":0.02,"g":"A","m":0.02},{"p":"C5","a":2.1,"e":0.02,"g":"A","m":0.02},{"p":"C5","a":1.55,"e":0.12,"g":"A","m":0.01},
{"p":"E10","a":2.13,"e":0.73,"g":"C","m":0.005},{"p":"E10","a":2.43,"e":0.725,"g":"C","m":0.005},{"p":"E10","a":1.66,"e":0.68,"g":"A","m":0.005},{"p":"E10","a":1.7,"e":0.63,"g":"A","m":0.005},{"p":"E10","a":2.36,"e":0.625,"g":"A","m":0.02},{"p":"E10","a":1.44,"e":0.63,"g":"C","m":0.005},{"p":"E10","a":1.58,"e":0.625,"g":"C","m":0.005},{"p":"E10","a":1.78,"e":0.6,"g":"C","m":0.01},{"p":"E10","a":1.22,"e":0.597,"g":"B","m":0.005},{"p":"E10","a":1.22,"e":0.585,"g":"A","m":0.005},{"p":"E10","a":0.57,"e":0.51,"g":"C","m":0.005},{"p":"E10","a":1.09,"e":0.55,"g":"C","m":0.005},{"p":"E10","a":2.05,"e":0.51,"g":"C","m":0.01},{"p":"E10","a":1.73,"e":0.507,"g":"A","m":0.01},{"p":"E10","a":1.83,"e":0.484,"g":"A","m":0.01},{"p":"E10","a":1.8,"e":0.482,"g":"C","m":0.005},{"p":"E10","a":1.77,"e":0.49,"g":"D","m":0.003},{"p":"E10","a":1.91,"e":0.47,"g":"C","m":0.01},{"p":"E10","a":1.91,"e":0.437,"g":"C","m":0.02},{"p":"E10","a":1.5,"e":0.473,"g":"A","m":0.02},{"p":"E10","a":2.6,"e":0.446,"g":"C","m":0.005},{"p":"E10","a":2.6,"e":0.357,"g":"B","m":0.005},{"p":"E10","a":1.27,"e":0.446,"g":"A","m":0.005},{"p":"E10","a":1.03,"e":0.42,"g":"A","m":0.01},{"p":"E10","a":0.93,"e":0.39,"g":"A","m":0.005},{"p":"E10","a":1.16,"e":0.43,"g":"C","m":0.005},{"p":"E10","a":1.59,"e":0.4,"g":"B","m":0.005},{"p":"E10","a":1.84,"e":0.385,"g":"C","m":0.02},{"p":"E10","a":1.97,"e":0.35,"g":"B","m":0.12},{"p":"E10","a":1.79,"e":0.32,"g":"A","m":0.12},{"p":"E10","a":1.36,"e":0.39,"g":"A","m":0.02},{"p":"E10","a":1.13,"e":0.357,"g":"A","m":0.02},{"p":"E10","a":1.12,"e":0.362,"g":"C","m":0.005},{"p":"E10","a":1.5,"e":0.345,"g":"A","m":0.01},{"p":"E10","a":1.33,"e":0.337,"g":"A","m":0.01},{"p":"E10","a":0.59,"e":0.368,"g":"A","m":0.01},{"p":"E10","a":0.77,"e":0.313,"g":"A","m":0.01},{"p":"E10","a":0.53,"e":0.246,"g":"A","m":0.02},{"p":"E10","a":1.52,"e":0.311,"g":"C","m":0.005},{"p":"E10","a":1.51,"e":0.325,"g":"A","m":0.005},{"p":"E10","a":1.65,"e":0.279,"g":"A","m":0.02},{"p":"E10","a":1.83,"e":0.27,"g":"A","m":0.02},{"p":"E10","a":1.73,"e":0.251,"g":"C","m":0.005},{"p":"E10","a":1.62,"e":0.243,"g":"C","m":0.005},{"p":"E10","a":1.79,"e":0.235,"g":"B","m":0.005},{"p":"E10","a":0.99,"e":0.276,"g":"C","m":0.01},{"p":"E10","a":1.02,"e":0.268,"g":"C","m":0.01},{"p":"E10","a":1.07,"e":0.247,"g":"C","m":0.005},{"p":"E10","a":1.03,"e":0.224,"g":"C","m":0.005},{"p":"E10","a":1.09,"e":0.295,"g":"A","m":0.01},{"p":"E10","a":1.24,"e":0.292,"g":"A","m":0.005},{"p":"E10","a":1.23,"e":0.255,"g":"A","m":0.01},{"p":"E10","a":1.21,"e":0.287,"g":"C","m":0.005},{"p":"E10","a":1.3,"e":0.227,"g":"A","m":0.02},{"p":"E10","a":1.23,"e":0.227,"g":"D","m":0.003},{"p":"E10","a":1.52,"e":0.203,"g":"C","m":0.005},{"p":"E10","a":1.52,"e":0.19,"g":"B","m":0.005},{"p":"E10","a":1.51,"e":0.174,"g":"C","m":0.01},{"p":"E10","a":1.32,"e":0.19,"g":"A","m":0.005},{"p":"E10","a":0.7,"e":0.187,"g":"C","m":0.005},{"p":"E10","a":0.74,"e":0.2,"g":"D","m":0.003},{"p":"E10","a":1.03,"e":0.19,"g":"A","m":0.005},{"p":"E10","a":1.26,"e":0.135,"g":"C","m":0.5},{"p":"E10","a":1.16,"e":0.16,"g":"C","m":0.005},{"p":"E10","a":1.12,"e":0.17,"g":"C","m":0.005},{"p":"E10","a":0.99,"e":0.073,"g":"C","m":0.16},{"p":"E10","a":1.03,"e":0.076,"g":"A","m":0.02},{"p":"E10","a":1.46,"e":0.081,"g":"A","m":0.02},{"p":"E10","a":1.61,"e":0.105,"g":"A","m":0.005},{"p":"E10","a":1.44,"e":0.11,"g":"C","m":0.005},{"p":"E10","a":1.46,"e":0.12,"g":"C","m":0.005},{"p":"E10","a":1.39,"e":0.138,"g":"B","m":0.005},{"p":"E10","a":1.27,"e":0.13,"g":"B","m":0.005},{"p":"E10","a":1.19,"e":0.12,"g":"D","m":0.003},{"p":"E10","a":0.48,"e":0.13,"g":"D","m":0.003},{"p":"E10","a":0.44,"e":0.011,"g":"D","m":0.003},{"p":"E10","a":0.87,"e":0.089,"g":"D","m":0.003},{"p":"E10","a":0.95,"e":0.1,"g":"D","m":0.003},{"p":"E10","a":1.05,"e":0.011,"g":"D","m":0.003},{"p":"E10","a":1.18,"e":0.013,"g":"D","m":0.003},{"p":"E10","a":0.38,"e":0.081,"g":"A","m":0.21},{"p":"E10","a":0.66,"e":0.005,"g":"B","m":0.29},{"p":"E10","a":2.75,"e":0.1,"g":"C","m":0.005},{"p":"E10","a":2.87,"e":0.008,"g":"C","m":0.005},{"p":"E10","a":3.05,"e":0.165,"g":"C","m":0.01},{"p":"E10","a":3.07,"e":0.14,"g":"A","m":0.005},{"p":"E10","a":2.97,"e":0.073,"g":"B","m":0.005},{"p":"E10","a":3.04,"e":0.068,"g":"B","m":0.005},{"p":"E10","a":3.08,"e":0.04,"g":"C","m":0.005},{"p":"E10","a":3.17,"e":0.073,"g":"C","m":0.005},{"p":"E10","a":3.21,"e":0.086,"g":"C","m":0.01},{"p":"E10","a":3.38,"e":0.045,"g":"C","m":0.005},{"p":"E10","a":3.48,"e":0.127,"g":"C","m":0.005},{"p":"E10","a":3.49,"e":0.036,"g":"C","m":0.005},{"p":"E10","a":3.55,"e":0.008,"g":"C","m":0.005},{"p":"E10","a":3.42,"e":0.024,"g":"C","m":0.005},{"p":"E10","a":3.39,"e":0.024,"g":"B","m":0.005},{"p":"E10","a":1.79,"e":0.084,"g":"B","m":0.005},{"p":"E10","a":2.42,"e":0.238,"g":"C","m":0.005},
{"p":"C10","a":2.22,"e":0.557,"g":"C","m":0.005},{"p":"C10","a":2.48,"e":0.528,"g":"C","m":0.005},{"p":"C10","a":2.62,"e":0.492,"g":"C","m":0.005},{"p":"C10","a":1.95,"e":0.455,"g":"A","m":0.005},{"p":"C10","a":1.42,"e":0.435,"g":"A","m":0.005},{"p":"C10","a":1.2,"e":0.419,"g":"B","m":0.005},{"p":"C10","a":2.54,"e":0.443,"g":"D","m":0.003},{"p":"C10","a":2.48,"e":0.414,"g":"C","m":0.005},{"p":"C10","a":2.4,"e":0.424,"g":"B","m":0.005},{"p":"C10","a":2.39,"e":0.41,"g":"D","m":0.003},{"p":"C10","a":1.66,"e":0.378,"g":"C","m":0.005},{"p":"C10","a":1.57,"e":0.338,"g":"D","m":0.003},{"p":"C10","a":1.78,"e":0.338,"g":"B","m":0.005},{"p":"C10","a":1.85,"e":0.354,"g":"C","m":0.005},{"p":"C10","a":1.93,"e":0.333,"g":"C","m":0.005},{"p":"C10","a":2.0,"e":0.317,"g":"C","m":0.005},{"p":"C10","a":2.13,"e":0.333,"g":"C","m":0.01},{"p":"C10","a":2.21,"e":0.343,"g":"A","m":0.005},{"p":"C10","a":2.46,"e":0.365,"g":"C","m":0.005},{"p":"C10","a":2.48,"e":0.313,"g":"C","m":0.005},{"p":"C10","a":2.51,"e":0.36,"g":"D","m":0.003},{"p":"C10","a":1.88,"e":0.32,"g":"A","m":0.01},{"p":"C10","a":1.9,"e":0.33,"g":"A","m":0.01},{"p":"C10","a":2.05,"e":0.31,"g":"A","m":0.005},{"p":"C10","a":2.31,"e":0.25,"g":"A","m":0.005},{"p":"C10","a":2.73,"e":0.297,"g":"A","m":0.005},{"p":"C10","a":2.69,"e":0.29,"g":"B","m":0.005},{"p":"C10","a":2.66,"e":0.26,"g":"C","m":0.01},{"p":"C10","a":3.56,"e":0.359,"g":"C","m":0.01},{"p":"C10","a":3.37,"e":0.253,"g":"B","m":0.005},{"p":"C10","a":3.33,"e":0.114,"g":"C","m":0.005},{"p":"C10","a":3.02,"e":0.135,"g":"C","m":0.005},{"p":"C10","a":3.14,"e":0.062,"g":"C","m":0.005},{"p":"C10","a":3.09,"e":0.04,"g":"C","m":0.005},{"p":"C10","a":4.05,"e":0.045,"g":"A","m":0.01},{"p":"C10","a":2.94,"e":0.143,"g":"B","m":0.035},{"p":"C10","a":2.81,"e":0.196,"g":"C","m":0.02},{"p":"C10","a":2.93,"e":0.196,"g":"B","m":0.005},{"p":"C10","a":2.71,"e":0.17,"g":"A","m":0.01},{"p":"C10","a":2.81,"e":0.17,"g":"A","m":0.005},{"p":"C10","a":0.29,"e":0.143,"g":"C","m":0.005},{"p":"C10","a":0.33,"e":0.11,"g":"D","m":0.003},{"p":"C10","a":0.79,"e":0.127,"g":"C","m":0.005},{"p":"C10","a":0.69,"e":0.11,"g":"A","m":0.005},{"p":"C10","a":0.84,"e":0.208,"g":"C","m":0.005},{"p":"C10","a":0.82,"e":0.179,"g":"D","m":0.003},{"p":"C10","a":0.46,"e":0.062,"g":"C","m":0.21},{"p":"C10","a":0.65,"e":0.029,"g":"C","m":0.19},{"p":"C10","a":0.86,"e":0.013,"g":"B","m":0.19},{"p":"C10","a":0.85,"e":0.07,"g":"A","m":0.02},{"p":"C10","a":1.04,"e":0.083,"g":"B","m":0.11},{"p":"C10","a":1.02,"e":0.24,"g":"D","m":0.003},{"p":"C10","a":1.1,"e":0.21,"g":"D","m":0.003},{"p":"C10","a":1.17,"e":0.26,"g":"D","m":0.003},{"p":"C10","a":1.1,"e":0.17,"g":"D","m":0.003},{"p":"C10","a":1.0,"e":0.14,"g":"D","m":0.003},{"p":"C10","a":1.21,"e":0.17,"g":"D","m":0.003},{"p":"C10","a":1.32,"e":0.17,"g":"D","m":0.003},{"p":"C10","a":1.48,"e":0.2,"g":"D","m":0.003},{"p":"C10","a":1.09,"e":0.245,"g":"B","m":0.01},{"p":"C10","a":1.17,"e":0.225,"g":"B","m":0.005},{"p":"C10","a":1.27,"e":0.23,"g":"B","m":0.005},{"p":"C10","a":1.43,"e":0.215,"g":"B","m":0.005},{"p":"C10","a":1.78,"e":0.243,"g":"B","m":0.005},{"p":"C10","a":1.94,"e":0.248,"g":"B","m":0.005},{"p":"C10","a":1.34,"e":0.21,"g":"C","m":0.01},{"p":"C10","a":1.1,"e":0.095,"g":"C","m":0.005},{"p":"C10","a":1.21,"e":0.11,"g":"C","m":0.005},{"p":"C10","a":1.43,"e":0.11,"g":"C","m":0.005},{"p":"C10","a":1.59,"e":0.085,"g":"C","m":0.005},{"p":"C10","a":1.11,"e":0.07,"g":"A","m":0.005},{"p":"C10","a":1.28,"e":0.14,"g":"A","m":0.005},{"p":"C10","a":1.45,"e":0.16,"g":"A","m":0.005},{"p":"C10","a":1.45,"e":0.09,"g":"A","m":0.01},{"p":"C10","a":1.56,"e":0.16,"g":"A","m":0.005},{"p":"C10","a":1.66,"e":0.14,"g":"A","m":0.005},{"p":"C10","a":1.82,"e":0.15,"g":"A","m":0.005},{"p":"C10","a":1.89,"e":0.18,"g":"A","m":0.005},{"p":"C10","a":2.05,"e":0.2,"g":"A","m":0.01},{"p":"C10","a":2.07,"e":0.14,"g":"A","m":0.005},{"p":"C10","a":2.1,"e":0.1,"g":"A","m":0.005},{"p":"C10","a":2.27,"e":0.15,"g":"A","m":0.005},{"p":"C10","a":2.38,"e":0.1,"g":"A","m":0.005},{"p":"C10","a":1.29,"e":0.037,"g":"B","m":0.11},{"p":"C10","a":1.71,"e":0.008,"g":"B","m":0.21},{"p":"C10","a":1.77,"e":0.029,"g":"C","m":0.11},{"p":"C10","a":1.38,"e":0.03,"g":"A","m":0.02},{"p":"C10","a":1.4,"e":0.05,"g":"A","m":0.02},{"p":"C10","a":2.44,"e":0.083,"g":"B","m":0.11},{"p":"C10","a":2.1,"e":0.049,"g":"A","m":0.07},{"p":"C10","a":2.05,"e":0.06,"g":"A","m":0.01},{"p":"C10","a":2.03,"e":0.183,"g":"C","m":0.035},{"p":"C10","a":2.05,"e":0.18,"g":"A","m":0.035},{"p":"C10","a":2.49,"e":0.188,"g":"C","m":0.02},{"p":"C10","a":2.53,"e":0.15,"g":"C","m":0.005},{"p":"C10","a":2.27,"e":0.11,"g":"C","m":0.005},{"p":"C10","a":2.45,"e":0.11,"g":"C","m":0.01},{"p":"C10","a":1.85,"e":0.14,"g":"C","m":0.005},{"p":"C10","a":1.75,"e":0.17,"g":"C","m":0.01},{"p":"C10","a":1.64,"e":0.11,"g":"C","m":0.005},{"p":"C10","a":1.96,"e":0.12,"g":"C","m":0.01},{"p":"C10","a":2.0,"e":0.09,"g":"C","m":0.005},{"p":"C10","a":2.22,"e":0.185,"g":"C","m":0.005},{"p":"C10","a":2.29,"e":0.19,"g":"B","m":0.005},{"p":"C10","a":2.27,"e":0.08,"g":"D","m":0.003},{"p":"C10","a":2.35,"e":0.075,"g":"D","m":0.003},{"p":"C10","a":2.43,"e":0.05,"g":"D","m":0.003},{"p":"C10","a":2.59,"e":0.07,"g":"D","m":0.003},{"p":"C10","a":1.85,"e":0.08,"g":"D","m":0.003},{"p":"C10","a":1.9,"e":0.01,"g":"D","m":0.003},{"p":"C10","a":1.49,"e":0.068,"g":"D","m":0.003},{"p":"C10","a":2.2,"e":0.16,"g":"D","m":0.003},{"p":"C10","a":2.02,"e":0.21,"g":"D","m":0.003},{"p":"C10","a":1.99,"e":0.26,"g":"D","m":0.003},{"p":"C10","a":1.8,"e":0.2,"g":"C","m":0.005},{"p":"C10","a":1.92,"e":0.22,"g":"A","m":0.005},{"p":"C10","a":1.68,"e":0.11,"g":"B","m":0.005},
{"p":"C10","a":1.5,"e":0.12,"g":"C","m":0.01},{"p":"C10","a":1.62,"e":0.18,"g":"A","m":0.01},{"p":"C10","a":1.95,"e":0.16,"g":"A","m":0.02},{"p":"C10","a":2.15,"e":0.06,"g":"C","m":0.01},{"p":"C10","a":2.35,"e":0.17,"g":"C","m":0.01},{"p":"C10","a":1.3,"e":0.06,"g":"C","m":0.01},{"p":"C10","a":1.2,"e":0.15,"g":"B","m":0.01},{"p":"C10","a":1.7,"e":0.05,"g":"A","m":0.01},{"p":"C10","a":2.2,"e":0.03,"g":"C","m":0.02},{"p":"C10","a":2.55,"e":0.1,"g":"C","m":0.01},
{"p":"E150","a":0.39,"e":0.167,"g":"A","m":0.5},{"p":"E150","a":0.61,"e":0.065,"g":"C","m":0.8},{"p":"E150","a":1.22,"e":0.059,"g":"B","m":1.4},{"p":"E150","a":2.31,"e":0.197,"g":"C","m":0.005},{"p":"E150","a":2.62,"e":0.068,"g":"C","m":0.005},{"p":"E150","a":3.24,"e":0.298,"g":"C","m":0.005},{"p":"E150","a":3.09,"e":0.176,"g":"C","m":0.005},{"p":"E150","a":3.24,"e":0.122,"g":"A","m":0.005},{"p":"E150","a":3.11,"e":0.107,"g":"C","m":0.01},{"p":"E150","a":3.13,"e":0.105,"g":"B","m":0.005},{"p":"E150","a":3.05,"e":0.05,"g":"C","m":0.005},{"p":"E150","a":3.1,"e":0.049,"g":"C","m":0.005},{"p":"E150","a":2.91,"e":0.024,"g":"B","m":0.005},{"p":"E150","a":3.48,"e":0.037,"g":"C","m":0.005},
{"p":"C150","a":0.585,"e":0.268,"g":"A","m":0.65},{"p":"C150","a":1.1,"e":0.059,"g":"B","m":0.9},{"p":"C150","a":1.64,"e":0.187,"g":"C","m":0.65},{"p":"C150","a":2.02,"e":0.231,"g":"C","m":0.005},{"p":"C150","a":2.52,"e":0.719,"g":"A","m":0.005},{"p":"C150","a":2.83,"e":0.424,"g":"A","m":0.005}]
},
"columns":2,"spacing":0,"bounds":"flush","align":"all",
"concat":[
{"width":329,"height":164.3,
"title":{"text":"EJS","font":"DejaVu Serif","fontSize":20,"fontWeight":"normal","color":"black","anchor":"middle","frame":"group","baseline":"alphabetic","offset":-8,"dx":-24},
"resolve":{"axis":{"x":"independent","y":"independent"}},
"layer":[
{"data":{"name":"curve"},"transform":[{"filter":"datum.s==='E'"}],"mark":{"type":"line","color":"black","strokeWidth":1.5,"strokeDash":[8,6]},
"encoding":{"x":{"field":"a","type":"quantitative","scale":{"domain":[0,5.5],"nice":false,"zero":false},"axis":{"orient":"bottom","offset":-11,"tickSize":11,"values":[0,1,2,3,4,5],"labels":false,"title":null}},
"y":{"field":"e","type":"quantitative","scale":{"domain":[-0.05,0.75],"nice":false,"zero":false},"axis":{"orient":"left","offset":-11,"tickSize":11,"values":[0,0.2,0.4,0.6],"labels":true,"format":"~g","labelPadding":10.5,"title":null}}}},
{"data":{"name":"vlines"},"transform":[{"filter":"datum.p==='E3' && datum.kind==='inner'"}],"mark":{"type":"rule","color":"#ff0000","strokeWidth":1.8,"strokeDash":[28,7]},
"encoding":{"x":{"field":"a","type":"quantitative","axis":{"orient":"bottom","offset":-5.5,"tickSize":5.5,"values":[0,0.2,0.4,0.6,0.8,1,1.2,1.4,1.6,1.8,2,2.2,2.4,2.6,2.8,3,3.2,3.4,3.6,3.8,4,4.2,4.4,4.6,4.8,5,5.2,5.4],"labels":false,"title":null}},
"y":{"datum":-0.05,"type":"quantitative","axis":{"orient":"left","offset":-5.5,"tickSize":5.5,"values":[-0.05,0,0.05,0.1,0.15,0.2,0.25,0.3,0.35,0.4,0.45,0.5,0.55,0.6,0.65,0.7,0.75],"labels":false,"title":null}},"y2":{"datum":0.75}}},
{"data":{"name":"vlines"},"transform":[{"filter":"datum.p==='E3' && datum.kind==='outer'"}],"mark":{"type":"rule","color":"#0000ff","strokeWidth":1.6,"strokeDash":[2,3]},
"encoding":{"x":{"field":"a","type":"quantitative","axis":{"orient":"top","offset":-11,"tickSize":11,"values":[0,1,2,3,4,5],"labels":false,"title":null}},
"y":{"datum":-0.05,"type":"quantitative","axis":{"orient":"right","offset":-11,"tickSize":11,"values":[0,0.2,0.4,0.6],"labels":false,"title":null}},"y2":{"datum":0.75}}},
{"data":{"name":"pts"},"transform":[{"filter":"datum.p==='E3'"}],"mark":{"type":"point","shape":"circle","filled":false,"opacity":1,"strokeWidth":1.9},
"encoding":{"x":{"field":"a","type":"quantitative","axis":{"orient":"top","offset":-5.5,"tickSize":5.5,"values":[0,0.2,0.4,0.6,0.8,1,1.2,1.4,1.6,1.8,2,2.2,2.4,2.6,2.8,3,3.2,3.4,3.6,3.8,4,4.2,4.4,4.6,4.8,5,5.2,5.4],"labels":false,"title":null}},
"y":{"field":"e","type":"quantitative","axis":{"orient":"right","offset":-5.5,"tickSize":5.5,"values":[-0.05,0,0.05,0.1,0.15,0.2,0.25,0.3,0.35,0.4,0.45,0.5,0.55,0.6,0.65,0.7,0.75],"labels":false,"title":null}},
"color":{"field":"g","type":"nominal","scale":{"domain":["A","B","C","D"],"range":["#ff0000","#00ff00","#0000ff","#000000"]},"legend":null},
"size":{"field":"m","type":"quantitative","scale":{"type":"pow","exponent":0.6667,"domain":[0,1],"range":[0,700]},"legend":null}}},
{"data":{"name":"jup"},"transform":[{"filter":"datum.p==='E3'"}],"mark":{"type":"point","shape":"circle","filled":false,"opacity":1,"strokeWidth":1.9,"size":540},
"encoding":{"x":{"field":"a","type":"quantitative","axis":null},"y":{"field":"e","type":"quantitative","axis":null},"color":{"field":"g","type":"nominal","scale":{"domain":["A","B","C","D"],"range":["#ff0000","#00ff00","#0000ff","#000000"]},"legend":null}}},
{"data":{"name":"labels"},"transform":[{"filter":"datum.p==='E3'"}],"mark":{"type":"text","align":"left","baseline":"alphabetic","font":"DejaVu Sans","fontSize":15.5,"fontWeight":"bold","color":"black"},
"encoding":{"x":{"datum":3.7,"type":"quantitative","axis":null},"y":{"datum":0.624,"type":"quantitative","axis":null},"text":{"field":"label"}}}
]},
{"width":329,"height":164.3,
"title":{"text":"CJSECC","font":"DejaVu Serif","fontSize":20,"fontWeight":"normal","color":"black","anchor":"middle","frame":"group","baseline":"alphabetic","offset":-8,"dx":-6},
"resolve":{"axis":{"x":"independent","y":"independent"}},
"layer":[
{"data":{"name":"curve"},"transform":[{"filter":"datum.s==='C'"}],"mark":{"type":"line","color":"black","strokeWidth":1.5,"strokeDash":[8,6]},
"encoding":{"x":{"field":"a","type":"quantitative","scale":{"domain":[0,5.5],"nice":false,"zero":false},"axis":{"orient":"bottom","offset":-11,"tickSize":11,"values":[0,1,2,3,4,5],"labels":false,"title":null}},
"y":{"field":"e","type":"quantitative","scale":{"domain":[-0.05,0.75],"nice":false,"zero":false},"axis":{"orient":"left","offset":-11,"tickSize":11,"values":[0,0.2,0.4,0.6],"labels":false,"title":null}}}},
{"data":{"name":"vlines"},"transform":[{"filter":"datum.p==='C3' && datum.kind==='inner'"}],"mark":{"type":"rule","color":"#ff0000","strokeWidth":1.8,"strokeDash":[28,7]},
"encoding":{"x":{"field":"a","type":"quantitative","axis":{"orient":"bottom","offset":-5.5,"tickSize":5.5,"values":[0,0.2,0.4,0.6,0.8,1,1.2,1.4,1.6,1.8,2,2.2,2.4,2.6,2.8,3,3.2,3.4,3.6,3.8,4,4.2,4.4,4.6,4.8,5,5.2,5.4],"labels":false,"title":null}},
"y":{"datum":-0.05,"type":"quantitative","axis":{"orient":"left","offset":-5.5,"tickSize":5.5,"values":[-0.05,0,0.05,0.1,0.15,0.2,0.25,0.3,0.35,0.4,0.45,0.5,0.55,0.6,0.65,0.7,0.75],"labels":false,"title":null}},"y2":{"datum":0.75}}},
{"data":{"name":"vlines"},"transform":[{"filter":"datum.p==='C3' && datum.kind==='outer'"}],"mark":{"type":"rule","color":"#0000ff","strokeWidth":1.6,"strokeDash":[2,3]},
"encoding":{"x":{"field":"a","type":"quantitative","axis":{"orient":"top","offset":-11,"tickSize":11,"values":[0,1,2,3,4,5],"labels":false,"title":null}},
"y":{"datum":-0.05,"type":"quantitative","axis":{"orient":"right","offset":-11,"tickSize":11,"values":[0,0.2,0.4,0.6],"labels":false,"title":null}},"y2":{"datum":0.75}}},
{"data":{"name":"pts"},"transform":[{"filter":"datum.p==='C3'"}],"mark":{"type":"point","shape":"circle","filled":false,"opacity":1,"strokeWidth":1.9},
"encoding":{"x":{"field":"a","type":"quantitative","axis":{"orient":"top","offset":-5.5,"tickSize":5.5,"values":[0,0.2,0.4,0.6,0.8,1,1.2,1.4,1.6,1.8,2,2.2,2.4,2.6,2.8,3,3.2,3.4,3.6,3.8,4,4.2,4.4,4.6,4.8,5,5.2,5.4],"labels":false,"title":null}},
"y":{"field":"e","type":"quantitative","axis":{"orient":"right","offset":-5.5,"tickSize":5.5,"values":[-0.05,0,0.05,0.1,0.15,0.2,0.25,0.3,0.35,0.4,0.45,0.5,0.55,0.6,0.65,0.7,0.75],"labels":false,"title":null}},
"color":{"field":"g","type":"nominal","scale":{"domain":["A","B","C","D"],"range":["#ff0000","#00ff00","#0000ff","#000000"]},"legend":null},
"size":{"field":"m","type":"quantitative","scale":{"type":"pow","exponent":0.6667,"domain":[0,1],"range":[0,700]},"legend":null}}},
{"data":{"name":"jup"},"transform":[{"filter":"datum.p==='C3'"}],"mark":{"type":"point","shape":"circle","filled":false,"opacity":1,"strokeWidth":1.9,"size":540},
"encoding":{"x":{"field":"a","type":"quantitative","axis":null},"y":{"field":"e","type":"quantitative","axis":null},"color":{"field":"g","type":"nominal","scale":{"domain":["A","B","C","D"],"range":["#ff0000","#00ff00","#0000ff","#000000"]},"legend":null}}},
{"data":{"name":"labels"},"transform":[{"filter":"datum.p==='C3'"}],"mark":{"type":"text","align":"left","baseline":"alphabetic","font":"DejaVu Sans","fontSize":15.5,"fontWeight":"bold","color":"black"},
"encoding":{"x":{"datum":3.7,"type":"quantitative","axis":null},"y":{"datum":0.624,"type":"quantitative","axis":null},"text":{"field":"label"}}}
]},
{"width":329,"height":164.3,
"resolve":{"axis":{"x":"independent","y":"independent"}},
"layer":[
{"data":{"name":"curve"},"transform":[{"filter":"datum.s==='E'"}],"mark":{"type":"line","color":"black","strokeWidth":1.5,"strokeDash":[8,6]},
"encoding":{"x":{"field":"a","type":"quantitative","scale":{"domain":[0,5.5],"nice":false,"zero":false},"axis":{"orient":"bottom","offset":-11,"tickSize":11,"values":[0,1,2,3,4,5],"labels":false,"title":null}},
"y":{"field":"e","type":"quantitative","scale":{"domain":[-0.05,0.75],"nice":false,"zero":false},"axis":{"orient":"left","offset":-11,"tickSize":11,"values":[0,0.2,0.4,0.6],"labels":true,"format":"~g","labelPadding":10.5,"title":"Eccentricity","titleAngle":270,"titleAlign":"center","titleBaseline":"alphabetic","titleX":-77.3,"titleY":155.7}}}},
{"data":{"name":"vlines"},"transform":[{"filter":"datum.p==='E5' && datum.kind==='inner'"}],"mark":{"type":"rule","color":"#ff0000","strokeWidth":1.8,"strokeDash":[28,7]},
"encoding":{"x":{"field":"a","type":"quantitative","axis":{"orient":"bottom","offset":-5.5,"tickSize":5.5,"values":[0,0.2,0.4,0.6,0.8,1,1.2,1.4,1.6,1.8,2,2.2,2.4,2.6,2.8,3,3.2,3.4,3.6,3.8,4,4.2,4.4,4.6,4.8,5,5.2,5.4],"labels":false,"title":null}},
"y":{"datum":-0.05,"type":"quantitative","axis":{"orient":"left","offset":-5.5,"tickSize":5.5,"values":[-0.05,0,0.05,0.1,0.15,0.2,0.25,0.3,0.35,0.4,0.45,0.5,0.55,0.6,0.65,0.7,0.75],"labels":false,"title":null}},"y2":{"datum":0.75}}},
{"data":{"name":"vlines"},"transform":[{"filter":"datum.p==='E5' && datum.kind==='outer'"}],"mark":{"type":"rule","color":"#0000ff","strokeWidth":1.6,"strokeDash":[2,3]},
"encoding":{"x":{"field":"a","type":"quantitative","axis":{"orient":"top","offset":-11,"tickSize":11,"values":[0,1,2,3,4,5],"labels":false,"title":null}},
"y":{"datum":-0.05,"type":"quantitative","axis":{"orient":"right","offset":-11,"tickSize":11,"values":[0,0.2,0.4,0.6],"labels":false,"title":null}},"y2":{"datum":0.75}}},
{"data":{"name":"pts"},"transform":[{"filter":"datum.p==='E5'"}],"mark":{"type":"point","shape":"circle","filled":false,"opacity":1,"strokeWidth":1.9},
"encoding":{"x":{"field":"a","type":"quantitative","axis":{"orient":"top","offset":-5.5,"tickSize":5.5,"values":[0,0.2,0.4,0.6,0.8,1,1.2,1.4,1.6,1.8,2,2.2,2.4,2.6,2.8,3,3.2,3.4,3.6,3.8,4,4.2,4.4,4.6,4.8,5,5.2,5.4],"labels":false,"title":null}},
"y":{"field":"e","type":"quantitative","axis":{"orient":"right","offset":-5.5,"tickSize":5.5,"values":[-0.05,0,0.05,0.1,0.15,0.2,0.25,0.3,0.35,0.4,0.45,0.5,0.55,0.6,0.65,0.7,0.75],"labels":false,"title":null}},
"color":{"field":"g","type":"nominal","scale":{"domain":["A","B","C","D"],"range":["#ff0000","#00ff00","#0000ff","#000000"]},"legend":null},
"size":{"field":"m","type":"quantitative","scale":{"type":"pow","exponent":0.6667,"domain":[0,1],"range":[0,700]},"legend":null}}},
{"data":{"name":"jup"},"transform":[{"filter":"datum.p==='E5'"}],"mark":{"type":"point","shape":"circle","filled":false,"opacity":1,"strokeWidth":1.9,"size":540},
"encoding":{"x":{"field":"a","type":"quantitative","axis":null},"y":{"field":"e","type":"quantitative","axis":null},"color":{"field":"g","type":"nominal","scale":{"domain":["A","B","C","D"],"range":["#ff0000","#00ff00","#0000ff","#000000"]},"legend":null}}},
{"data":{"name":"labels"},"transform":[{"filter":"datum.p==='E5'"}],"mark":{"type":"text","align":"left","baseline":"alphabetic","font":"DejaVu Sans","fontSize":15.5,"fontWeight":"bold","color":"black"},
"encoding":{"x":{"datum":3.7,"type":"quantitative","axis":null},"y":{"datum":0.624,"type":"quantitative","axis":null},"text":{"field":"label"}}}
]},
{"width":329,"height":164.3,
"resolve":{"axis":{"x":"independent","y":"independent"}},
"layer":[
{"data":{"name":"curve"},"transform":[{"filter":"datum.s==='C'"}],"mark":{"type":"line","color":"black","strokeWidth":1.5,"strokeDash":[8,6]},
"encoding":{"x":{"field":"a","type":"quantitative","scale":{"domain":[0,5.5],"nice":false,"zero":false},"axis":{"orient":"bottom","offset":-11,"tickSize":11,"values":[0,1,2,3,4,5],"labels":false,"title":null}},
"y":{"field":"e","type":"quantitative","scale":{"domain":[-0.05,0.75],"nice":false,"zero":false},"axis":{"orient":"left","offset":-11,"tickSize":11,"values":[0,0.2,0.4,0.6],"labels":false,"title":null}}}},
{"data":{"name":"vlines"},"transform":[{"filter":"datum.p==='C5' && datum.kind==='inner'"}],"mark":{"type":"rule","color":"#ff0000","strokeWidth":1.8,"strokeDash":[28,7]},
"encoding":{"x":{"field":"a","type":"quantitative","axis":{"orient":"bottom","offset":-5.5,"tickSize":5.5,"values":[0,0.2,0.4,0.6,0.8,1,1.2,1.4,1.6,1.8,2,2.2,2.4,2.6,2.8,3,3.2,3.4,3.6,3.8,4,4.2,4.4,4.6,4.8,5,5.2,5.4],"labels":false,"title":null}},
"y":{"datum":-0.05,"type":"quantitative","axis":{"orient":"left","offset":-5.5,"tickSize":5.5,"values":[-0.05,0,0.05,0.1,0.15,0.2,0.25,0.3,0.35,0.4,0.45,0.5,0.55,0.6,0.65,0.7,0.75],"labels":false,"title":null}},"y2":{"datum":0.75}}},
{"data":{"name":"vlines"},"transform":[{"filter":"datum.p==='C5' && datum.kind==='outer'"}],"mark":{"type":"rule","color":"#0000ff","strokeWidth":1.6,"strokeDash":[2,3]},
"encoding":{"x":{"field":"a","type":"quantitative","axis":{"orient":"top","offset":-11,"tickSize":11,"values":[0,1,2,3,4,5],"labels":false,"title":null}},
"y":{"datum":-0.05,"type":"quantitative","axis":{"orient":"right","offset":-11,"tickSize":11,"values":[0,0.2,0.4,0.6],"labels":false,"title":null}},"y2":{"datum":0.75}}},
{"data":{"name":"pts"},"transform":[{"filter":"datum.p==='C5'"}],"mark":{"type":"point","shape":"circle","filled":false,"opacity":1,"strokeWidth":1.9},
"encoding":{"x":{"field":"a","type":"quantitative","axis":{"orient":"top","offset":-5.5,"tickSize":5.5,"values":[0,0.2,0.4,0.6,0.8,1,1.2,1.4,1.6,1.8,2,2.2,2.4,2.6,2.8,3,3.2,3.4,3.6,3.8,4,4.2,4.4,4.6,4.8,5,5.2,5.4],"labels":false,"title":null}},
"y":{"field":"e","type":"quantitative","axis":{"orient":"right","offset":-5.5,"tickSize":5.5,"values":[-0.05,0,0.05,0.1,0.15,0.2,0.25,0.3,0.35,0.4,0.45,0.5,0.55,0.6,0.65,0.7,0.75],"labels":false,"title":null}},
"color":{"field":"g","type":"nominal","scale":{"domain":["A","B","C","D"],"range":["#ff0000","#00ff00","#0000ff","#000000"]},"legend":null},
"size":{"field":"m","type":"quantitative","scale":{"type":"pow","exponent":0.6667,"domain":[0,1],"range":[0,700]},"legend":null}}},
{"data":{"name":"jup"},"transform":[{"filter":"datum.p==='C5'"}],"mark":{"type":"point","shape":"circle","filled":false,"opacity":1,"strokeWidth":1.9,"size":540},
"encoding":{"x":{"field":"a","type":"quantitative","axis":null},"y":{"field":"e","type":"quantitative","axis":null},"color":{"field":"g","type":"nominal","scale":{"domain":["A","B","C","D"],"range":["#ff0000","#00ff00","#0000ff","#000000"]},"legend":null}}},
{"data":{"name":"labels"},"transform":[{"filter":"datum.p==='C5'"}],"mark":{"type":"text","align":"left","baseline":"alphabetic","font":"DejaVu Sans","fontSize":15.5,"fontWeight":"bold","color":"black"},
"encoding":{"x":{"datum":3.7,"type":"quantitative","axis":null},"y":{"datum":0.624,"type":"quantitative","axis":null},"text":{"field":"label"}}}
]},
{"width":329,"height":164.3,
"resolve":{"axis":{"x":"independent","y":"independent"}},
"layer":[
{"data":{"name":"curve"},"transform":[{"filter":"datum.s==='E'"}],"mark":{"type":"line","color":"black","strokeWidth":1.5,"strokeDash":[8,6]},
"encoding":{"x":{"field":"a","type":"quantitative","scale":{"domain":[0,5.5],"nice":false,"zero":false},"axis":{"orient":"bottom","offset":-11,"tickSize":11,"values":[0,1,2,3,4,5],"labels":false,"title":null}},
"y":{"field":"e","type":"quantitative","scale":{"domain":[-0.05,0.75],"nice":false,"zero":false},"axis":{"orient":"left","offset":-11,"tickSize":11,"values":[0,0.2,0.4,0.6],"labels":true,"format":"~g","labelPadding":10.5,"title":null}}}},
{"data":{"name":"vlines"},"transform":[{"filter":"datum.p==='E10' && datum.kind==='inner'"}],"mark":{"type":"rule","color":"#ff0000","strokeWidth":1.8,"strokeDash":[28,7]},
"encoding":{"x":{"field":"a","type":"quantitative","axis":{"orient":"bottom","offset":-5.5,"tickSize":5.5,"values":[0,0.2,0.4,0.6,0.8,1,1.2,1.4,1.6,1.8,2,2.2,2.4,2.6,2.8,3,3.2,3.4,3.6,3.8,4,4.2,4.4,4.6,4.8,5,5.2,5.4],"labels":false,"title":null}},
"y":{"datum":-0.05,"type":"quantitative","axis":{"orient":"left","offset":-5.5,"tickSize":5.5,"values":[-0.05,0,0.05,0.1,0.15,0.2,0.25,0.3,0.35,0.4,0.45,0.5,0.55,0.6,0.65,0.7,0.75],"labels":false,"title":null}},"y2":{"datum":0.75}}},
{"data":{"name":"vlines"},"transform":[{"filter":"datum.p==='E10' && datum.kind==='outer'"}],"mark":{"type":"rule","color":"#0000ff","strokeWidth":1.6,"strokeDash":[2,3]},
"encoding":{"x":{"field":"a","type":"quantitative","axis":{"orient":"top","offset":-11,"tickSize":11,"values":[0,1,2,3,4,5],"labels":false,"title":null}},
"y":{"datum":-0.05,"type":"quantitative","axis":{"orient":"right","offset":-11,"tickSize":11,"values":[0,0.2,0.4,0.6],"labels":false,"title":null}},"y2":{"datum":0.75}}},
{"data":{"name":"pts"},"transform":[{"filter":"datum.p==='E10'"}],"mark":{"type":"point","shape":"circle","filled":false,"opacity":1,"strokeWidth":1.9},
"encoding":{"x":{"field":"a","type":"quantitative","axis":{"orient":"top","offset":-5.5,"tickSize":5.5,"values":[0,0.2,0.4,0.6,0.8,1,1.2,1.4,1.6,1.8,2,2.2,2.4,2.6,2.8,3,3.2,3.4,3.6,3.8,4,4.2,4.4,4.6,4.8,5,5.2,5.4],"labels":false,"title":null}},
"y":{"field":"e","type":"quantitative","axis":{"orient":"right","offset":-5.5,"tickSize":5.5,"values":[-0.05,0,0.05,0.1,0.15,0.2,0.25,0.3,0.35,0.4,0.45,0.5,0.55,0.6,0.65,0.7,0.75],"labels":false,"title":null}},
"color":{"field":"g","type":"nominal","scale":{"domain":["A","B","C","D"],"range":["#ff0000","#00ff00","#0000ff","#000000"]},"legend":null},
"size":{"field":"m","type":"quantitative","scale":{"type":"pow","exponent":0.6667,"domain":[0,1],"range":[0,700]},"legend":null}}},
{"data":{"name":"jup"},"transform":[{"filter":"datum.p==='E10'"}],"mark":{"type":"point","shape":"circle","filled":false,"opacity":1,"strokeWidth":1.9,"size":540},
"encoding":{"x":{"field":"a","type":"quantitative","axis":null},"y":{"field":"e","type":"quantitative","axis":null},"color":{"field":"g","type":"nominal","scale":{"domain":["A","B","C","D"],"range":["#ff0000","#00ff00","#0000ff","#000000"]},"legend":null}}},
{"data":{"name":"labels"},"transform":[{"filter":"datum.p==='E10'"}],"mark":{"type":"text","align":"left","baseline":"alphabetic","font":"DejaVu Sans","fontSize":15.5,"fontWeight":"bold","color":"black"},
"encoding":{"x":{"datum":3.74,"type":"quantitative","axis":null},"y":{"datum":0.624,"type":"quantitative","axis":null},"text":{"field":"label"}}}
]},
{"width":329,"height":164.3,
"resolve":{"axis":{"x":"independent","y":"independent"}},
"layer":[
{"data":{"name":"curve"},"transform":[{"filter":"datum.s==='C'"}],"mark":{"type":"line","color":"black","strokeWidth":1.5,"strokeDash":[8,6]},
"encoding":{"x":{"field":"a","type":"quantitative","scale":{"domain":[0,5.5],"nice":false,"zero":false},"axis":{"orient":"bottom","offset":-11,"tickSize":11,"values":[0,1,2,3,4,5],"labels":false,"title":null}},
"y":{"field":"e","type":"quantitative","scale":{"domain":[-0.05,0.75],"nice":false,"zero":false},"axis":{"orient":"left","offset":-11,"tickSize":11,"values":[0,0.2,0.4,0.6],"labels":false,"title":null}}}},
{"data":{"name":"vlines"},"transform":[{"filter":"datum.p==='C10' && datum.kind==='inner'"}],"mark":{"type":"rule","color":"#ff0000","strokeWidth":1.8,"strokeDash":[28,7]},
"encoding":{"x":{"field":"a","type":"quantitative","axis":{"orient":"bottom","offset":-5.5,"tickSize":5.5,"values":[0,0.2,0.4,0.6,0.8,1,1.2,1.4,1.6,1.8,2,2.2,2.4,2.6,2.8,3,3.2,3.4,3.6,3.8,4,4.2,4.4,4.6,4.8,5,5.2,5.4],"labels":false,"title":null}},
"y":{"datum":-0.05,"type":"quantitative","axis":{"orient":"left","offset":-5.5,"tickSize":5.5,"values":[-0.05,0,0.05,0.1,0.15,0.2,0.25,0.3,0.35,0.4,0.45,0.5,0.55,0.6,0.65,0.7,0.75],"labels":false,"title":null}},"y2":{"datum":0.75}}},
{"data":{"name":"vlines"},"transform":[{"filter":"datum.p==='C10' && datum.kind==='outer'"}],"mark":{"type":"rule","color":"#0000ff","strokeWidth":1.6,"strokeDash":[2,3]},
"encoding":{"x":{"field":"a","type":"quantitative","axis":{"orient":"top","offset":-11,"tickSize":11,"values":[0,1,2,3,4,5],"labels":false,"title":null}},
"y":{"datum":-0.05,"type":"quantitative","axis":{"orient":"right","offset":-11,"tickSize":11,"values":[0,0.2,0.4,0.6],"labels":false,"title":null}},"y2":{"datum":0.75}}},
{"data":{"name":"pts"},"transform":[{"filter":"datum.p==='C10'"}],"mark":{"type":"point","shape":"circle","filled":false,"opacity":1,"strokeWidth":1.9},
"encoding":{"x":{"field":"a","type":"quantitative","axis":{"orient":"top","offset":-5.5,"tickSize":5.5,"values":[0,0.2,0.4,0.6,0.8,1,1.2,1.4,1.6,1.8,2,2.2,2.4,2.6,2.8,3,3.2,3.4,3.6,3.8,4,4.2,4.4,4.6,4.8,5,5.2,5.4],"labels":false,"title":null}},
"y":{"field":"e","type":"quantitative","axis":{"orient":"right","offset":-5.5,"tickSize":5.5,"values":[-0.05,0,0.05,0.1,0.15,0.2,0.25,0.3,0.35,0.4,0.45,0.5,0.55,0.6,0.65,0.7,0.75],"labels":false,"title":null}},
"color":{"field":"g","type":"nominal","scale":{"domain":["A","B","C","D"],"range":["#ff0000","#00ff00","#0000ff","#000000"]},"legend":null},
"size":{"field":"m","type":"quantitative","scale":{"type":"pow","exponent":0.6667,"domain":[0,1],"range":[0,700]},"legend":null}}},
{"data":{"name":"jup"},"transform":[{"filter":"datum.p==='C10'"}],"mark":{"type":"point","shape":"circle","filled":false,"opacity":1,"strokeWidth":1.9,"size":540},
"encoding":{"x":{"field":"a","type":"quantitative","axis":null},"y":{"field":"e","type":"quantitative","axis":null},"color":{"field":"g","type":"nominal","scale":{"domain":["A","B","C","D"],"range":["#ff0000","#00ff00","#0000ff","#000000"]},"legend":null}}},
{"data":{"name":"labels"},"transform":[{"filter":"datum.p==='C10'"}],"mark":{"type":"text","align":"left","baseline":"alphabetic","font":"DejaVu Sans","fontSize":15.5,"fontWeight":"bold","color":"black"},
"encoding":{"x":{"datum":3.72,"type":"quantitative","axis":null},"y":{"datum":0.624,"type":"quantitative","axis":null},"text":{"field":"label"}}}
]},
{"width":329,"height":164.3,
"resolve":{"axis":{"x":"independent","y":"independent"}},
"layer":[
{"data":{"name":"curve"},"transform":[{"filter":"datum.s==='E'"}],"mark":{"type":"line","color":"black","strokeWidth":1.5,"strokeDash":[8,6]},
"encoding":{"x":{"field":"a","type":"quantitative","scale":{"domain":[0,5.5],"nice":false,"zero":false},"axis":{"orient":"bottom","offset":-11,"tickSize":11,"values":[0,1,2,3,4,5],"labels":true,"format":"~g","labelPadding":10,"title":"Semimajor axis (AU)","titleAlign":"center","titleBaseline":"alphabetic","titleX":326.9,"titleY":67.5}},
"y":{"field":"e","type":"quantitative","scale":{"domain":[-0.05,0.75],"nice":false,"zero":false},"axis":{"orient":"left","offset":-11,"tickSize":11,"values":[0,0.2,0.4,0.6],"labels":true,"format":"~g","labelPadding":10.5,"title":null}}}},
{"data":{"name":"vlines"},"transform":[{"filter":"datum.p==='E150' && datum.kind==='inner'"}],"mark":{"type":"rule","color":"#ff0000","strokeWidth":1.8,"strokeDash":[28,7]},
"encoding":{"x":{"field":"a","type":"quantitative","axis":{"orient":"bottom","offset":-5.5,"tickSize":5.5,"values":[0,0.2,0.4,0.6,0.8,1,1.2,1.4,1.6,1.8,2,2.2,2.4,2.6,2.8,3,3.2,3.4,3.6,3.8,4,4.2,4.4,4.6,4.8,5,5.2,5.4],"labels":false,"title":null}},
"y":{"datum":-0.05,"type":"quantitative","axis":{"orient":"left","offset":-5.5,"tickSize":5.5,"values":[-0.05,0,0.05,0.1,0.15,0.2,0.25,0.3,0.35,0.4,0.45,0.5,0.55,0.6,0.65,0.7,0.75],"labels":false,"title":null}},"y2":{"datum":0.75}}},
{"data":{"name":"vlines"},"transform":[{"filter":"datum.p==='E150' && datum.kind==='outer'"}],"mark":{"type":"rule","color":"#0000ff","strokeWidth":1.6,"strokeDash":[2,3]},
"encoding":{"x":{"field":"a","type":"quantitative","axis":{"orient":"top","offset":-11,"tickSize":11,"values":[0,1,2,3,4,5],"labels":false,"title":null}},
"y":{"datum":-0.05,"type":"quantitative","axis":{"orient":"right","offset":-11,"tickSize":11,"values":[0,0.2,0.4,0.6],"labels":false,"title":null}},"y2":{"datum":0.75}}},
{"data":{"name":"pts"},"transform":[{"filter":"datum.p==='E150'"}],"mark":{"type":"point","shape":"circle","filled":false,"opacity":1,"strokeWidth":1.9},
"encoding":{"x":{"field":"a","type":"quantitative","axis":{"orient":"top","offset":-5.5,"tickSize":5.5,"values":[0,0.2,0.4,0.6,0.8,1,1.2,1.4,1.6,1.8,2,2.2,2.4,2.6,2.8,3,3.2,3.4,3.6,3.8,4,4.2,4.4,4.6,4.8,5,5.2,5.4],"labels":false,"title":null}},
"y":{"field":"e","type":"quantitative","axis":{"orient":"right","offset":-5.5,"tickSize":5.5,"values":[-0.05,0,0.05,0.1,0.15,0.2,0.25,0.3,0.35,0.4,0.45,0.5,0.55,0.6,0.65,0.7,0.75],"labels":false,"title":null}},
"color":{"field":"g","type":"nominal","scale":{"domain":["A","B","C","D"],"range":["#ff0000","#00ff00","#0000ff","#000000"]},"legend":null},
"size":{"field":"m","type":"quantitative","scale":{"type":"pow","exponent":0.6667,"domain":[0,1],"range":[0,700]},"legend":null}}},
{"data":{"name":"jup"},"transform":[{"filter":"datum.p==='E150'"}],"mark":{"type":"point","shape":"circle","filled":false,"opacity":1,"strokeWidth":1.9,"size":540},
"encoding":{"x":{"field":"a","type":"quantitative","axis":null},"y":{"field":"e","type":"quantitative","axis":null},"color":{"field":"g","type":"nominal","scale":{"domain":["A","B","C","D"],"range":["#ff0000","#00ff00","#0000ff","#000000"]},"legend":null}}},
{"data":{"name":"labels"},"transform":[{"filter":"datum.p==='E150'"}],"mark":{"type":"text","align":"left","baseline":"alphabetic","font":"DejaVu Sans","fontSize":15.5,"fontWeight":"bold","color":"black"},
"encoding":{"x":{"datum":3.87,"type":"quantitative","axis":null},"y":{"datum":0.624,"type":"quantitative","axis":null},"text":{"field":"label"}}}
]},
{"width":329,"height":164.3,
"resolve":{"axis":{"x":"independent","y":"independent"}},
"layer":[
{"data":{"name":"curve"},"transform":[{"filter":"datum.s==='C'"}],"mark":{"type":"line","color":"black","strokeWidth":1.5,"strokeDash":[8,6]},
"encoding":{"x":{"field":"a","type":"quantitative","scale":{"domain":[0,5.5],"nice":false,"zero":false},"axis":{"orient":"bottom","offset":-11,"tickSize":11,"values":[0,1,2,3,4,5],"labels":true,"format":"~g","labelPadding":10,"title":null}},
"y":{"field":"e","type":"quantitative","scale":{"domain":[-0.05,0.75],"nice":false,"zero":false},"axis":{"orient":"left","offset":-11,"tickSize":11,"values":[0,0.2,0.4,0.6],"labels":false,"title":null}}}},
{"data":{"name":"vlines"},"transform":[{"filter":"datum.p==='C150' && datum.kind==='inner'"}],"mark":{"type":"rule","color":"#ff0000","strokeWidth":1.8,"strokeDash":[28,7]},
"encoding":{"x":{"field":"a","type":"quantitative","axis":{"orient":"bottom","offset":-5.5,"tickSize":5.5,"values":[0,0.2,0.4,0.6,0.8,1,1.2,1.4,1.6,1.8,2,2.2,2.4,2.6,2.8,3,3.2,3.4,3.6,3.8,4,4.2,4.4,4.6,4.8,5,5.2,5.4],"labels":false,"title":null}},
"y":{"datum":-0.05,"type":"quantitative","axis":{"orient":"left","offset":-5.5,"tickSize":5.5,"values":[-0.05,0,0.05,0.1,0.15,0.2,0.25,0.3,0.35,0.4,0.45,0.5,0.55,0.6,0.65,0.7,0.75],"labels":false,"title":null}},"y2":{"datum":0.75}}},
{"data":{"name":"vlines"},"transform":[{"filter":"datum.p==='C150' && datum.kind==='outer'"}],"mark":{"type":"rule","color":"#0000ff","strokeWidth":1.6,"strokeDash":[2,3]},
"encoding":{"x":{"field":"a","type":"quantitative","axis":{"orient":"top","offset":-11,"tickSize":11,"values":[0,1,2,3,4,5],"labels":false,"title":null}},
"y":{"datum":-0.05,"type":"quantitative","axis":{"orient":"right","offset":-11,"tickSize":11,"values":[0,0.2,0.4,0.6],"labels":false,"title":null}},"y2":{"datum":0.75}}},
{"data":{"name":"pts"},"transform":[{"filter":"datum.p==='C150'"}],"mark":{"type":"point","shape":"circle","filled":false,"opacity":1,"strokeWidth":1.9},
"encoding":{"x":{"field":"a","type":"quantitative","axis":{"orient":"top","offset":-5.5,"tickSize":5.5,"values":[0,0.2,0.4,0.6,0.8,1,1.2,1.4,1.6,1.8,2,2.2,2.4,2.6,2.8,3,3.2,3.4,3.6,3.8,4,4.2,4.4,4.6,4.8,5,5.2,5.4],"labels":false,"title":null}},
"y":{"field":"e","type":"quantitative","axis":{"orient":"right","offset":-5.5,"tickSize":5.5,"values":[-0.05,0,0.05,0.1,0.15,0.2,0.25,0.3,0.35,0.4,0.45,0.5,0.55,0.6,0.65,0.7,0.75],"labels":false,"title":null}},
"color":{"field":"g","type":"nominal","scale":{"domain":["A","B","C","D"],"range":["#ff0000","#00ff00","#0000ff","#000000"]},"legend":null},
"size":{"field":"m","type":"quantitative","scale":{"type":"pow","exponent":0.6667,"domain":[0,1],"range":[0,700]},"legend":null}}},
{"data":{"name":"jup"},"transform":[{"filter":"datum.p==='C150'"}],"mark":{"type":"point","shape":"circle","filled":false,"opacity":1,"strokeWidth":1.9,"size":540},
"encoding":{"x":{"field":"a","type":"quantitative","axis":null},"y":{"field":"e","type":"quantitative","axis":null},"color":{"field":"g","type":"nominal","scale":{"domain":["A","B","C","D"],"range":["#ff0000","#00ff00","#0000ff","#000000"]},"legend":null}}},
{"data":{"name":"labels"},"transform":[{"filter":"datum.p==='C150'"}],"mark":{"type":"text","align":"left","baseline":"alphabetic","font":"DejaVu Sans","fontSize":15.5,"fontWeight":"bold","color":"black"},
"encoding":{"x":{"datum":3.72,"type":"quantitative","axis":null},"y":{"datum":0.624,"type":"quantitative","axis":null},"text":{"field":"label"}}}
]}
]
}
